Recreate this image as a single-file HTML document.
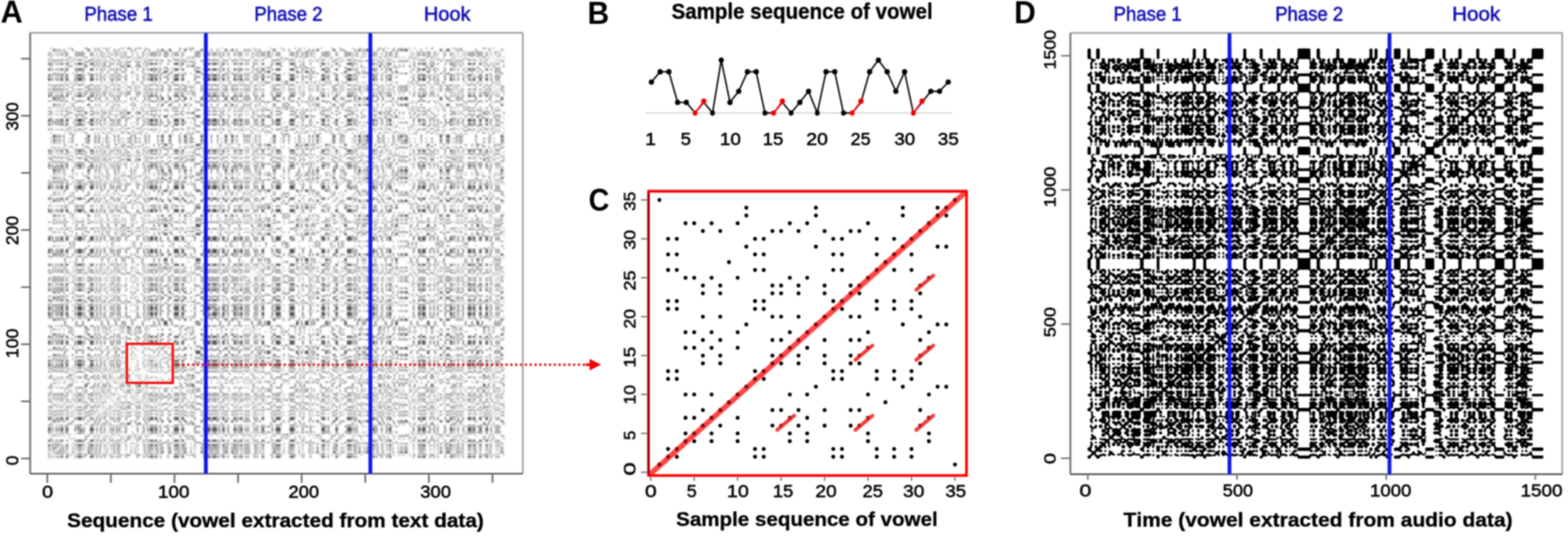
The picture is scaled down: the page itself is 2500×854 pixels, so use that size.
<!DOCTYPE html>
<html><head><meta charset="utf-8"><title>Recurrence plots</title>
<style>html,body{margin:0;padding:0;background:#fff;}svg{display:block;}text{font-family:'Liberation Sans',sans-serif;}</style>
</head><body>
<svg width="2500" height="854" viewBox="0 0 2500 854">
<defs><filter id="gooD" x="1700" y="60" width="800" height="700" filterUnits="userSpaceOnUse"><feGaussianBlur stdDeviation="0.9"/><feComponentTransfer><feFuncA type="linear" slope="3" intercept="-1"/></feComponentTransfer></filter><filter id="blurA" x="0" y="0" width="1" height="1"><feGaussianBlur stdDeviation="1.1"/></filter><filter id="soft" x="0" y="0" width="2500" height="854" filterUnits="userSpaceOnUse"><feGaussianBlur stdDeviation="0.8"/></filter></defs>
<rect width="2500" height="854" fill="#fff"/>
<g filter="url(#soft)">
<defs><clipPath id="ra0"><path d="M0 718.73H2500.00V722.25H0ZM0 715.09H2500.00V716.79H0ZM0 711.45H2500.00V713.15H0ZM0 705.99H2500.00V707.69H0ZM0 693.25H2500.00V694.95H0ZM0 669.59H2500.00V673.11H0ZM0 660.49H2500.00V662.19H0ZM0 655.03H2500.00V656.73H0ZM0 644.11H2500.00V645.81H0ZM0 633.19H2500.00V634.89H0ZM0 627.73H2500.00V629.43H0ZM0 609.53H2500.00V611.23H0ZM0 604.07H2500.00V605.77H0ZM0 589.51H2500.00V591.21H0ZM0 584.05H2500.00V585.75H0ZM0 571.31H2500.00V573.01H0ZM0 564.03H2500.00V567.55H0ZM0 553.11H2500.00V556.63H0ZM0 540.37H2500.00V542.07H0ZM0 531.27H2500.00V534.79H0ZM0 523.99H2500.00V525.69H0ZM0 507.61H2500.00V511.13H0ZM0 494.87H2500.00V496.57H0ZM0 485.77H2500.00V487.47H0ZM0 473.03H2500.00V476.55H0ZM0 463.93H2500.00V467.45H0ZM0 458.47H2500.00V460.17H0ZM0 447.55H2500.00V449.25H0ZM0 443.91H2500.00V445.61H0ZM0 440.27H2500.00V441.97H0ZM0 431.17H2500.00V432.87H0ZM0 425.71H2500.00V427.41H0ZM0 403.87H2500.00V407.39H0ZM0 391.13H2500.00V392.83H0ZM0 383.85H2500.00V385.55H0ZM0 369.29H2500.00V370.99H0ZM0 354.73H2500.00V356.43H0ZM0 349.27H2500.00V350.97H0ZM0 341.99H2500.00V345.51H0ZM0 318.33H2500.00V321.85H0ZM0 309.23H2500.00V310.93H0ZM0 305.59H2500.00V307.29H0ZM0 289.21H2500.00V290.91H0ZM0 281.93H2500.00V285.45H0ZM0 276.47H2500.00V278.17H0ZM0 269.19H2500.00V274.53H0ZM0 265.55H2500.00V267.25H0ZM0 256.45H2500.00V258.15H0ZM0 249.17H2500.00V250.87H0ZM0 234.61H2500.00V236.31H0ZM0 227.33H2500.00V229.03H0ZM0 221.87H2500.00V225.39H0ZM0 214.59H2500.00V219.93H0ZM0 194.57H2500.00V196.27H0ZM0 165.45H2500.00V168.97H0ZM0 154.53H2500.00V159.87H0ZM0 143.61H2500.00V145.31H0ZM0 139.97H2500.00V141.67H0ZM0 136.33H2500.00V138.03H0ZM0 116.31H2500.00V118.01H0ZM0 96.29H2500.00V97.99H0ZM0 78.09H2500.00V81.61H0Z"/></clipPath><clipPath id="ra1"><path d="M0 726.01H2500.00V729.53H0ZM0 722.37H2500.00V724.07H0ZM0 716.91H2500.00V718.61H0ZM0 713.27H2500.00V714.97H0ZM0 707.81H2500.00V711.33H0ZM0 700.53H2500.00V704.05H0ZM0 689.61H2500.00V691.31H0ZM0 680.51H2500.00V687.67H0ZM0 676.87H2500.00V678.57H0ZM0 664.13H2500.00V669.47H0ZM0 658.67H2500.00V660.37H0ZM0 653.21H2500.00V654.91H0ZM0 647.75H2500.00V649.45H0ZM0 638.65H2500.00V640.35H0ZM0 635.01H2500.00V636.71H0ZM0 629.55H2500.00V631.25H0ZM0 625.91H2500.00V627.61H0ZM0 616.81H2500.00V618.51H0ZM0 600.43H2500.00V602.13H0ZM0 591.33H2500.00V593.03H0ZM0 585.87H2500.00V587.57H0ZM0 578.59H2500.00V583.93H0ZM0 573.13H2500.00V576.65H0ZM0 567.67H2500.00V569.37H0ZM0 556.75H2500.00V558.45H0ZM0 542.19H2500.00V549.35H0ZM0 534.91H2500.00V538.43H0ZM0 518.53H2500.00V520.23H0ZM0 505.79H2500.00V507.49H0ZM0 496.69H2500.00V503.85H0ZM0 487.59H2500.00V494.75H0ZM0 483.95H2500.00V485.65H0ZM0 476.67H2500.00V480.19H0ZM0 471.21H2500.00V472.91H0ZM0 460.29H2500.00V463.81H0ZM0 456.65H2500.00V458.35H0ZM0 451.19H2500.00V454.71H0ZM0 445.73H2500.00V447.43H0ZM0 442.09H2500.00V443.79H0ZM0 432.99H2500.00V434.69H0ZM0 429.35H2500.00V431.05H0ZM0 420.25H2500.00V423.77H0ZM0 407.51H2500.00V409.21H0ZM0 396.59H2500.00V403.75H0ZM0 376.57H2500.00V383.73H0ZM0 363.83H2500.00V365.53H0ZM0 352.91H2500.00V354.61H0ZM0 332.89H2500.00V338.23H0ZM0 327.43H2500.00V329.13H0ZM0 314.69H2500.00V318.21H0ZM0 294.67H2500.00V301.83H0ZM0 291.03H2500.00V292.73H0ZM0 287.39H2500.00V289.09H0ZM0 267.37H2500.00V269.07H0ZM0 261.91H2500.00V265.43H0ZM0 258.27H2500.00V259.97H0ZM0 250.99H2500.00V252.69H0ZM0 243.71H2500.00V245.41H0ZM0 238.25H2500.00V241.77H0ZM0 205.49H2500.00V207.19H0ZM0 196.39H2500.00V199.91H0ZM0 189.11H2500.00V194.45H0ZM0 181.83H2500.00V183.53H0ZM0 176.37H2500.00V178.07H0ZM0 170.91H2500.00V172.61H0ZM0 159.99H2500.00V161.69H0ZM0 150.89H2500.00V154.41H0ZM0 147.25H2500.00V148.95H0ZM0 141.79H2500.00V143.49H0ZM0 134.51H2500.00V136.21H0ZM0 123.59H2500.00V128.93H0ZM0 118.13H2500.00V121.65H0ZM0 109.03H2500.00V112.55H0ZM0 99.93H2500.00V103.45H0ZM0 94.47H2500.00V96.17H0ZM0 87.19H2500.00V88.89H0ZM0 83.55H2500.00V85.25H0Z"/></clipPath><clipPath id="ra2"><path d="M0 704.17H2500.00V705.87H0ZM0 687.79H2500.00V689.49H0ZM0 678.69H2500.00V680.39H0ZM0 651.39H2500.00V653.09H0ZM0 642.29H2500.00V643.99H0ZM0 631.37H2500.00V633.07H0ZM0 622.27H2500.00V623.97H0ZM0 618.63H2500.00V620.33H0ZM0 607.71H2500.00V609.41H0ZM0 593.15H2500.00V594.85H0ZM0 576.77H2500.00V578.47H0ZM0 569.49H2500.00V571.19H0ZM0 558.57H2500.00V563.91H0ZM0 551.29H2500.00V552.99H0ZM0 511.25H2500.00V518.41H0ZM0 482.13H2500.00V483.83H0ZM0 469.39H2500.00V471.09H0ZM0 454.83H2500.00V456.53H0ZM0 436.63H2500.00V438.33H0ZM0 427.53H2500.00V429.23H0ZM0 423.89H2500.00V425.59H0ZM0 418.43H2500.00V420.13H0ZM0 411.15H2500.00V416.49H0ZM0 371.11H2500.00V374.63H0ZM0 365.65H2500.00V367.35H0ZM0 356.55H2500.00V361.89H0ZM0 351.09H2500.00V352.79H0ZM0 347.45H2500.00V349.15H0ZM0 329.25H2500.00V332.77H0ZM0 325.61H2500.00V327.31H0ZM0 301.95H2500.00V305.47H0ZM0 285.57H2500.00V287.27H0ZM0 278.29H2500.00V279.99H0ZM0 274.65H2500.00V276.35H0ZM0 260.09H2500.00V261.79H0ZM0 245.53H2500.00V247.23H0ZM0 236.43H2500.00V238.13H0ZM0 229.15H2500.00V232.67H0ZM0 209.13H2500.00V210.83H0ZM0 200.03H2500.00V201.73H0ZM0 183.65H2500.00V187.17H0ZM0 174.55H2500.00V176.25H0ZM0 161.81H2500.00V163.51H0ZM0 130.87H2500.00V132.57H0ZM0 121.77H2500.00V123.47H0ZM0 112.67H2500.00V116.19H0ZM0 107.21H2500.00V108.91H0ZM0 89.01H2500.00V90.71H0ZM0 85.37H2500.00V87.07H0ZM0 81.73H2500.00V83.43H0Z"/></clipPath><clipPath id="ra3"><path d="M0 724.19H2500.00V725.89H0ZM0 698.71H2500.00V700.41H0ZM0 695.07H2500.00V696.77H0ZM0 673.23H2500.00V676.75H0ZM0 662.31H2500.00V664.01H0ZM0 656.85H2500.00V658.55H0ZM0 649.57H2500.00V651.27H0ZM0 645.93H2500.00V647.63H0ZM0 640.47H2500.00V642.17H0ZM0 624.09H2500.00V625.79H0ZM0 620.45H2500.00V622.15H0ZM0 611.35H2500.00V616.69H0ZM0 602.25H2500.00V603.95H0ZM0 596.79H2500.00V600.31H0ZM0 587.69H2500.00V589.39H0ZM0 538.55H2500.00V540.25H0ZM0 529.45H2500.00V531.15H0ZM0 525.81H2500.00V527.51H0ZM0 520.35H2500.00V523.87H0ZM0 503.97H2500.00V505.67H0ZM0 480.31H2500.00V482.01H0ZM0 434.81H2500.00V436.51H0ZM0 409.33H2500.00V411.03H0ZM0 394.77H2500.00V396.47H0ZM0 374.75H2500.00V376.45H0ZM0 367.47H2500.00V369.17H0ZM0 362.01H2500.00V363.71H0ZM0 338.35H2500.00V340.05H0ZM0 321.97H2500.00V323.67H0ZM0 311.05H2500.00V312.75H0ZM0 292.85H2500.00V294.55H0ZM0 280.11H2500.00V281.81H0ZM0 252.81H2500.00V256.33H0ZM0 247.35H2500.00V249.05H0ZM0 241.89H2500.00V243.59H0ZM0 232.79H2500.00V234.49H0ZM0 225.51H2500.00V227.21H0ZM0 220.05H2500.00V221.75H0ZM0 210.95H2500.00V212.65H0ZM0 203.67H2500.00V205.37H0ZM0 187.29H2500.00V188.99H0ZM0 178.19H2500.00V181.71H0ZM0 149.07H2500.00V150.77H0ZM0 145.43H2500.00V147.13H0ZM0 138.15H2500.00V139.85H0ZM0 103.57H2500.00V107.09H0ZM0 98.11H2500.00V99.81H0ZM0 90.83H2500.00V92.53H0ZM0 76.27H2500.00V77.97H0Z"/></clipPath><clipPath id="ra4"><path d="M0 696.89H2500.00V698.59H0ZM0 691.43H2500.00V693.13H0ZM0 636.83H2500.00V638.53H0ZM0 605.89H2500.00V607.59H0ZM0 594.97H2500.00V596.67H0ZM0 549.47H2500.00V551.17H0ZM0 527.63H2500.00V529.33H0ZM0 467.57H2500.00V469.27H0ZM0 449.37H2500.00V451.07H0ZM0 438.45H2500.00V440.15H0ZM0 416.61H2500.00V418.31H0ZM0 392.95H2500.00V394.65H0ZM0 385.67H2500.00V391.01H0ZM0 345.63H2500.00V347.33H0ZM0 340.17H2500.00V341.87H0ZM0 323.79H2500.00V325.49H0ZM0 312.87H2500.00V314.57H0ZM0 307.41H2500.00V309.11H0ZM0 212.77H2500.00V214.47H0ZM0 207.31H2500.00V209.01H0ZM0 201.85H2500.00V203.55H0ZM0 172.73H2500.00V174.43H0ZM0 169.09H2500.00V170.79H0ZM0 163.63H2500.00V165.33H0ZM0 132.69H2500.00V134.39H0ZM0 129.05H2500.00V130.75H0ZM0 92.65H2500.00V94.35H0Z"/></clipPath></defs><g fill="#505050" filter="url(#blurA)"><path clip-path="url(#ra0)" d="M84.64 0.00H88.47V854.00H84.64ZM90.72 0.00H92.52V854.00H90.72ZM94.78 0.00H96.58V854.00H94.78ZM100.86 0.00H102.66V854.00H100.86ZM115.06 0.00H116.86V854.00H115.06ZM139.40 0.00H143.22V854.00H139.40ZM151.56 0.00H153.36V854.00H151.56ZM157.65 0.00H159.45V854.00H157.65ZM169.82 0.00H171.62V854.00H169.82ZM181.98 0.00H183.78V854.00H181.98ZM188.07 0.00H189.87V854.00H188.07ZM208.35 0.00H210.15V854.00H208.35ZM214.43 0.00H216.23V854.00H214.43ZM230.66 0.00H232.46V854.00H230.66ZM236.74 0.00H238.54V854.00H236.74ZM250.94 0.00H252.74V854.00H250.94ZM257.02 0.00H260.85V854.00H257.02ZM269.19 0.00H273.02V854.00H269.19ZM285.41 0.00H287.21V854.00H285.41ZM293.52 0.00H297.35V854.00H293.52ZM303.66 0.00H305.46V854.00H303.66ZM319.89 0.00H323.72V854.00H319.89ZM336.11 0.00H337.91V854.00H336.11ZM346.25 0.00H348.05V854.00H346.25ZM358.42 0.00H362.25V854.00H358.42ZM368.56 0.00H372.39V854.00H368.56ZM376.67 0.00H378.47V854.00H376.67ZM388.84 0.00H390.64V854.00H388.84ZM392.90 0.00H394.70V854.00H392.90ZM396.95 0.00H398.75V854.00H396.95ZM407.09 0.00H408.89V854.00H407.09ZM413.18 0.00H414.98V854.00H413.18ZM435.48 0.00H439.31V854.00H435.48ZM451.71 0.00H453.51V854.00H451.71ZM459.82 0.00H461.62V854.00H459.82ZM476.04 0.00H477.84V854.00H476.04ZM492.27 0.00H494.07V854.00H492.27ZM498.35 0.00H500.15V854.00H498.35ZM504.44 0.00H508.26V854.00H504.44ZM530.80 0.00H534.63V854.00H530.80ZM542.97 0.00H544.77V854.00H542.97ZM547.02 0.00H548.82V854.00H547.02ZM565.28 0.00H567.08V854.00H565.28ZM571.36 0.00H575.19V854.00H571.36ZM579.47 0.00H581.27V854.00H579.47ZM583.53 0.00H589.38V854.00H583.53ZM591.64 0.00H593.44V854.00H591.64ZM601.78 0.00H603.58V854.00H601.78ZM609.89 0.00H611.69V854.00H609.89ZM626.12 0.00H627.92V854.00H626.12ZM634.23 0.00H636.03V854.00H634.23ZM638.28 0.00H642.11V854.00H638.28ZM644.37 0.00H650.22V854.00H644.37ZM670.73 0.00H672.53V854.00H670.73ZM701.15 0.00H704.98V854.00H701.15ZM711.29 0.00H717.15V854.00H711.29ZM727.52 0.00H729.32V854.00H727.52ZM731.57 0.00H733.37V854.00H731.57ZM735.63 0.00H737.43V854.00H735.63ZM757.94 0.00H759.74V854.00H757.94ZM780.24 0.00H782.04V854.00H780.24ZM798.50 0.00H802.32V854.00H798.50Z"/><path clip-path="url(#ra1)" d="M76.53 0.00H80.36V854.00H76.53ZM82.61 0.00H84.41V854.00H82.61ZM88.70 0.00H90.50V854.00H88.70ZM92.75 0.00H94.55V854.00H92.75ZM96.81 0.00H100.64V854.00H96.81ZM104.92 0.00H108.75V854.00H104.92ZM119.12 0.00H120.92V854.00H119.12ZM123.17 0.00H131.06V854.00H123.17ZM133.31 0.00H135.11V854.00H133.31ZM143.45 0.00H149.31V854.00H143.45ZM153.59 0.00H155.39V854.00H153.59ZM159.68 0.00H161.48V854.00H159.68ZM165.76 0.00H167.56V854.00H165.76ZM175.90 0.00H177.70V854.00H175.90ZM179.96 0.00H181.76V854.00H179.96ZM186.04 0.00H187.84V854.00H186.04ZM190.10 0.00H191.90V854.00H190.10ZM200.24 0.00H202.04V854.00H200.24ZM218.49 0.00H220.29V854.00H218.49ZM228.63 0.00H230.43V854.00H228.63ZM234.71 0.00H236.51V854.00H234.71ZM238.77 0.00H244.62V854.00H238.77ZM246.88 0.00H250.71V854.00H246.88ZM254.99 0.00H256.79V854.00H254.99ZM267.16 0.00H268.96V854.00H267.16ZM277.30 0.00H285.18V854.00H277.30ZM289.47 0.00H293.30V854.00H289.47ZM309.75 0.00H311.55V854.00H309.75ZM323.94 0.00H325.74V854.00H323.94ZM328.00 0.00H335.88V854.00H328.00ZM338.14 0.00H346.02V854.00H338.14ZM348.28 0.00H350.08V854.00H348.28ZM354.36 0.00H358.19V854.00H354.36ZM362.48 0.00H364.28V854.00H362.48ZM372.62 0.00H376.44V854.00H372.62ZM378.70 0.00H380.50V854.00H378.70ZM382.76 0.00H386.58V854.00H382.76ZM390.87 0.00H392.67V854.00H390.87ZM394.92 0.00H396.72V854.00H394.92ZM405.06 0.00H406.86V854.00H405.06ZM409.12 0.00H410.92V854.00H409.12ZM417.23 0.00H421.06V854.00H417.23ZM433.46 0.00H435.26V854.00H433.46ZM439.54 0.00H447.42V854.00H439.54ZM461.85 0.00H469.73V854.00H461.85ZM482.13 0.00H483.93V854.00H482.13ZM494.30 0.00H496.10V854.00H494.30ZM512.55 0.00H518.40V854.00H512.55ZM522.69 0.00H524.49V854.00H522.69ZM534.86 0.00H538.68V854.00H534.86ZM553.11 0.00H560.99V854.00H553.11ZM563.25 0.00H565.05V854.00H563.25ZM567.30 0.00H569.10V854.00H567.30ZM589.61 0.00H591.41V854.00H589.61ZM593.67 0.00H597.50V854.00H593.67ZM599.75 0.00H601.55V854.00H599.75ZM607.86 0.00H609.66V854.00H607.86ZM615.98 0.00H617.78V854.00H615.98ZM620.03 0.00H623.86V854.00H620.03ZM658.56 0.00H660.36V854.00H658.56ZM666.68 0.00H670.50V854.00H666.68ZM672.76 0.00H678.62V854.00H672.76ZM684.93 0.00H686.73V854.00H684.93ZM691.01 0.00H692.81V854.00H691.01ZM697.10 0.00H698.90V854.00H697.10ZM709.26 0.00H711.06V854.00H709.26ZM717.38 0.00H721.20V854.00H717.38ZM723.46 0.00H725.26V854.00H723.46ZM729.54 0.00H731.34V854.00H729.54ZM737.66 0.00H739.46V854.00H737.66ZM745.77 0.00H751.62V854.00H745.77ZM753.88 0.00H757.71V854.00H753.88ZM764.02 0.00H767.85V854.00H764.02ZM774.16 0.00H777.99V854.00H774.16ZM782.27 0.00H784.07V854.00H782.27ZM790.38 0.00H792.18V854.00H790.38ZM794.44 0.00H796.24V854.00H794.44Z"/><path clip-path="url(#ra2)" d="M102.89 0.00H104.69V854.00H102.89ZM121.14 0.00H122.94V854.00H121.14ZM131.28 0.00H133.08V854.00H131.28ZM161.70 0.00H163.50V854.00H161.70ZM171.84 0.00H173.64V854.00H171.84ZM184.01 0.00H185.81V854.00H184.01ZM194.15 0.00H195.95V854.00H194.15ZM198.21 0.00H200.01V854.00H198.21ZM210.38 0.00H212.18V854.00H210.38ZM226.60 0.00H228.40V854.00H226.60ZM244.85 0.00H246.65V854.00H244.85ZM252.96 0.00H254.76V854.00H252.96ZM261.08 0.00H266.93V854.00H261.08ZM273.24 0.00H275.04V854.00H273.24ZM311.78 0.00H319.66V854.00H311.78ZM350.31 0.00H352.11V854.00H350.31ZM364.50 0.00H366.30V854.00H364.50ZM380.73 0.00H382.53V854.00H380.73ZM401.01 0.00H402.81V854.00H401.01ZM411.15 0.00H412.95V854.00H411.15ZM415.20 0.00H417.00V854.00H415.20ZM421.29 0.00H423.09V854.00H421.29ZM425.34 0.00H431.20V854.00H425.34ZM471.99 0.00H475.82V854.00H471.99ZM480.10 0.00H481.90V854.00H480.10ZM486.18 0.00H492.04V854.00H486.18ZM496.32 0.00H498.12V854.00H496.32ZM500.38 0.00H502.18V854.00H500.38ZM518.63 0.00H522.46V854.00H518.63ZM524.72 0.00H526.52V854.00H524.72ZM549.05 0.00H552.88V854.00H549.05ZM569.33 0.00H571.13V854.00H569.33ZM577.44 0.00H579.24V854.00H577.44ZM581.50 0.00H583.30V854.00H581.50ZM597.72 0.00H599.52V854.00H597.72ZM613.95 0.00H615.75V854.00H613.95ZM624.09 0.00H625.89V854.00H624.09ZM630.17 0.00H634.00V854.00H630.17ZM654.51 0.00H656.31V854.00H654.51ZM664.65 0.00H666.45V854.00H664.65ZM680.87 0.00H684.70V854.00H680.87ZM693.04 0.00H694.84V854.00H693.04ZM707.24 0.00H709.04V854.00H707.24ZM741.71 0.00H743.51V854.00H741.71ZM751.85 0.00H753.65V854.00H751.85ZM759.96 0.00H763.79V854.00H759.96ZM768.08 0.00H769.88V854.00H768.08ZM788.36 0.00H790.16V854.00H788.36ZM792.41 0.00H794.21V854.00H792.41ZM796.47 0.00H798.27V854.00H796.47Z"/><path clip-path="url(#ra3)" d="M80.58 0.00H82.38V854.00H80.58ZM108.98 0.00H110.78V854.00H108.98ZM113.03 0.00H114.83V854.00H113.03ZM135.34 0.00H139.17V854.00H135.34ZM149.54 0.00H151.34V854.00H149.54ZM155.62 0.00H157.42V854.00H155.62ZM163.73 0.00H165.53V854.00H163.73ZM167.79 0.00H169.59V854.00H167.79ZM173.87 0.00H175.67V854.00H173.87ZM192.12 0.00H193.92V854.00H192.12ZM196.18 0.00H197.98V854.00H196.18ZM202.26 0.00H208.12V854.00H202.26ZM216.46 0.00H218.26V854.00H216.46ZM220.52 0.00H224.34V854.00H220.52ZM232.68 0.00H234.48V854.00H232.68ZM287.44 0.00H289.24V854.00H287.44ZM297.58 0.00H299.38V854.00H297.58ZM301.64 0.00H303.44V854.00H301.64ZM305.69 0.00H309.52V854.00H305.69ZM325.97 0.00H327.77V854.00H325.97ZM352.34 0.00H354.14V854.00H352.34ZM403.04 0.00H404.84V854.00H403.04ZM431.43 0.00H433.23V854.00H431.43ZM447.65 0.00H449.45V854.00H447.65ZM469.96 0.00H471.76V854.00H469.96ZM478.07 0.00H479.87V854.00H478.07ZM484.16 0.00H485.96V854.00H484.16ZM510.52 0.00H512.32V854.00H510.52ZM528.77 0.00H530.57V854.00H528.77ZM540.94 0.00H542.74V854.00H540.94ZM561.22 0.00H563.02V854.00H561.22ZM575.42 0.00H577.22V854.00H575.42ZM603.81 0.00H607.64V854.00H603.81ZM611.92 0.00H613.72V854.00H611.92ZM618.00 0.00H619.80V854.00H618.00ZM628.14 0.00H629.94V854.00H628.14ZM636.26 0.00H638.06V854.00H636.26ZM642.34 0.00H644.14V854.00H642.34ZM652.48 0.00H654.28V854.00H652.48ZM660.59 0.00H662.39V854.00H660.59ZM678.84 0.00H680.64V854.00H678.84ZM686.96 0.00H690.78V854.00H686.96ZM721.43 0.00H723.23V854.00H721.43ZM725.49 0.00H727.29V854.00H725.49ZM733.60 0.00H735.40V854.00H733.60ZM770.10 0.00H773.93V854.00H770.10ZM778.22 0.00H780.02V854.00H778.22ZM786.33 0.00H788.13V854.00H786.33ZM802.55 0.00H804.35V854.00H802.55Z"/><path clip-path="url(#ra4)" d="M111.00 0.00H112.80V854.00H111.00ZM117.09 0.00H118.89V854.00H117.09ZM177.93 0.00H179.73V854.00H177.93ZM212.40 0.00H214.20V854.00H212.40ZM224.57 0.00H226.37V854.00H224.57ZM275.27 0.00H277.07V854.00H275.27ZM299.61 0.00H301.41V854.00H299.61ZM366.53 0.00H368.33V854.00H366.53ZM386.81 0.00H388.61V854.00H386.81ZM398.98 0.00H400.78V854.00H398.98ZM423.32 0.00H425.12V854.00H423.32ZM449.68 0.00H451.48V854.00H449.68ZM453.74 0.00H459.59V854.00H453.74ZM502.41 0.00H504.21V854.00H502.41ZM508.49 0.00H510.29V854.00H508.49ZM526.74 0.00H528.54V854.00H526.74ZM538.91 0.00H540.71V854.00H538.91ZM545.00 0.00H546.80V854.00H545.00ZM650.45 0.00H652.25V854.00H650.45ZM656.54 0.00H658.34V854.00H656.54ZM662.62 0.00H664.42V854.00H662.62ZM695.07 0.00H696.87V854.00H695.07ZM699.12 0.00H700.92V854.00H699.12ZM705.21 0.00H707.01V854.00H705.21ZM739.68 0.00H741.48V854.00H739.68ZM743.74 0.00H745.54V854.00H743.74ZM784.30 0.00H786.10V854.00H784.30Z"/><path fill="#fff" d="M76.48 727.78h1.90v1.80h-1.90ZM78.51 725.96h1.90v1.80h-1.90ZM80.53 724.14h1.90v1.80h-1.90ZM82.56 722.32h1.90v1.80h-1.90ZM84.59 720.50h1.90v1.80h-1.90ZM86.62 718.68h1.90v1.80h-1.90ZM88.65 716.86h1.90v1.80h-1.90ZM90.67 715.04h1.90v1.80h-1.90ZM92.70 713.22h1.90v1.80h-1.90ZM94.73 711.40h1.90v1.80h-1.90ZM96.76 709.58h1.90v1.80h-1.90ZM98.79 707.76h1.90v1.80h-1.90ZM100.81 705.94h1.90v1.80h-1.90ZM102.84 704.12h1.90v1.80h-1.90ZM104.87 702.30h1.90v1.80h-1.90ZM106.90 700.48h1.90v1.80h-1.90ZM108.93 698.66h1.90v1.80h-1.90ZM110.95 696.84h1.90v1.80h-1.90ZM112.98 695.02h1.90v1.80h-1.90ZM115.01 693.20h1.90v1.80h-1.90ZM117.04 691.38h1.90v1.80h-1.90ZM119.07 689.56h1.90v1.80h-1.90ZM121.09 687.74h1.90v1.80h-1.90ZM123.12 685.92h1.90v1.80h-1.90ZM125.15 684.10h1.90v1.80h-1.90ZM127.18 682.28h1.90v1.80h-1.90ZM129.21 680.46h1.90v1.80h-1.90ZM131.23 678.64h1.90v1.80h-1.90ZM133.26 676.82h1.90v1.80h-1.90ZM135.29 675.00h1.90v1.80h-1.90ZM137.32 673.18h1.90v1.80h-1.90ZM139.35 671.36h1.90v1.80h-1.90ZM141.37 669.54h1.90v1.80h-1.90ZM143.40 667.72h1.90v1.80h-1.90ZM145.43 665.90h1.90v1.80h-1.90ZM147.46 664.08h1.90v1.80h-1.90ZM149.49 662.26h1.90v1.80h-1.90ZM151.51 660.44h1.90v1.80h-1.90ZM153.54 658.62h1.90v1.80h-1.90ZM155.57 656.80h1.90v1.80h-1.90ZM157.60 654.98h1.90v1.80h-1.90ZM159.63 653.16h1.90v1.80h-1.90ZM161.65 651.34h1.90v1.80h-1.90ZM163.68 649.52h1.90v1.80h-1.90ZM165.71 647.70h1.90v1.80h-1.90ZM167.74 645.88h1.90v1.80h-1.90ZM169.77 644.06h1.90v1.80h-1.90ZM171.79 642.24h1.90v1.80h-1.90ZM173.82 640.42h1.90v1.80h-1.90ZM175.85 638.60h1.90v1.80h-1.90ZM177.88 636.78h1.90v1.80h-1.90ZM179.91 634.96h1.90v1.80h-1.90ZM181.93 633.14h1.90v1.80h-1.90ZM183.96 631.32h1.90v1.80h-1.90ZM185.99 629.50h1.90v1.80h-1.90ZM188.02 627.68h1.90v1.80h-1.90ZM190.05 625.86h1.90v1.80h-1.90ZM192.07 624.04h1.90v1.80h-1.90ZM194.10 622.22h1.90v1.80h-1.90ZM196.13 620.40h1.90v1.80h-1.90ZM198.16 618.58h1.90v1.80h-1.90ZM200.19 616.76h1.90v1.80h-1.90ZM202.21 614.94h1.90v1.80h-1.90ZM204.24 613.12h1.90v1.80h-1.90ZM206.27 611.30h1.90v1.80h-1.90ZM208.30 609.48h1.90v1.80h-1.90ZM210.33 607.66h1.90v1.80h-1.90ZM212.35 605.84h1.90v1.80h-1.90ZM214.38 604.02h1.90v1.80h-1.90ZM216.41 602.20h1.90v1.80h-1.90ZM218.44 600.38h1.90v1.80h-1.90ZM220.47 598.56h1.90v1.80h-1.90ZM222.49 596.74h1.90v1.80h-1.90ZM224.52 594.92h1.90v1.80h-1.90ZM226.55 593.10h1.90v1.80h-1.90ZM228.58 591.28h1.90v1.80h-1.90ZM230.61 589.46h1.90v1.80h-1.90ZM232.63 587.64h1.90v1.80h-1.90ZM234.66 585.82h1.90v1.80h-1.90ZM236.69 584.00h1.90v1.80h-1.90ZM238.72 582.18h1.90v1.80h-1.90ZM240.75 580.36h1.90v1.80h-1.90ZM242.77 578.54h1.90v1.80h-1.90ZM244.80 576.72h1.90v1.80h-1.90ZM246.83 574.90h1.90v1.80h-1.90ZM248.86 573.08h1.90v1.80h-1.90ZM250.89 571.26h1.90v1.80h-1.90ZM252.91 569.44h1.90v1.80h-1.90ZM254.94 567.62h1.90v1.80h-1.90ZM256.97 565.80h1.90v1.80h-1.90ZM259.00 563.98h1.90v1.80h-1.90ZM261.03 562.16h1.90v1.80h-1.90ZM263.05 560.34h1.90v1.80h-1.90ZM265.08 558.52h1.90v1.80h-1.90ZM267.11 556.70h1.90v1.80h-1.90ZM269.14 554.88h1.90v1.80h-1.90ZM271.17 553.06h1.90v1.80h-1.90ZM273.19 551.24h1.90v1.80h-1.90ZM275.22 549.42h1.90v1.80h-1.90ZM277.25 547.60h1.90v1.80h-1.90ZM279.28 545.78h1.90v1.80h-1.90ZM281.31 543.96h1.90v1.80h-1.90ZM283.33 542.14h1.90v1.80h-1.90ZM285.36 540.32h1.90v1.80h-1.90ZM287.39 538.50h1.90v1.80h-1.90ZM289.42 536.68h1.90v1.80h-1.90ZM291.45 534.86h1.90v1.80h-1.90ZM293.47 533.04h1.90v1.80h-1.90ZM295.50 531.22h1.90v1.80h-1.90ZM297.53 529.40h1.90v1.80h-1.90ZM299.56 527.58h1.90v1.80h-1.90ZM301.59 525.76h1.90v1.80h-1.90ZM303.61 523.94h1.90v1.80h-1.90ZM305.64 522.12h1.90v1.80h-1.90ZM307.67 520.30h1.90v1.80h-1.90ZM309.70 518.48h1.90v1.80h-1.90ZM311.73 516.66h1.90v1.80h-1.90ZM313.75 514.84h1.90v1.80h-1.90ZM315.78 513.02h1.90v1.80h-1.90ZM317.81 511.20h1.90v1.80h-1.90ZM319.84 509.38h1.90v1.80h-1.90ZM321.87 507.56h1.90v1.80h-1.90ZM323.89 505.74h1.90v1.80h-1.90ZM325.92 503.92h1.90v1.80h-1.90ZM327.95 502.10h1.90v1.80h-1.90ZM329.98 500.28h1.90v1.80h-1.90ZM332.01 498.46h1.90v1.80h-1.90ZM334.03 496.64h1.90v1.80h-1.90ZM336.06 494.82h1.90v1.80h-1.90ZM338.09 493.00h1.90v1.80h-1.90ZM340.12 491.18h1.90v1.80h-1.90ZM342.15 489.36h1.90v1.80h-1.90ZM344.17 487.54h1.90v1.80h-1.90ZM346.20 485.72h1.90v1.80h-1.90ZM348.23 483.90h1.90v1.80h-1.90ZM350.26 482.08h1.90v1.80h-1.90ZM352.29 480.26h1.90v1.80h-1.90ZM354.31 478.44h1.90v1.80h-1.90ZM356.34 476.62h1.90v1.80h-1.90ZM358.37 474.80h1.90v1.80h-1.90ZM360.40 472.98h1.90v1.80h-1.90ZM362.43 471.16h1.90v1.80h-1.90ZM364.45 469.34h1.90v1.80h-1.90ZM366.48 467.52h1.90v1.80h-1.90ZM368.51 465.70h1.90v1.80h-1.90ZM370.54 463.88h1.90v1.80h-1.90ZM372.57 462.06h1.90v1.80h-1.90ZM374.59 460.24h1.90v1.80h-1.90ZM376.62 458.42h1.90v1.80h-1.90ZM378.65 456.60h1.90v1.80h-1.90ZM380.68 454.78h1.90v1.80h-1.90ZM382.71 452.96h1.90v1.80h-1.90ZM384.73 451.14h1.90v1.80h-1.90ZM386.76 449.32h1.90v1.80h-1.90ZM388.79 447.50h1.90v1.80h-1.90ZM390.82 445.68h1.90v1.80h-1.90ZM392.85 443.86h1.90v1.80h-1.90ZM394.87 442.04h1.90v1.80h-1.90ZM396.90 440.22h1.90v1.80h-1.90ZM398.93 438.40h1.90v1.80h-1.90ZM400.96 436.58h1.90v1.80h-1.90ZM402.99 434.76h1.90v1.80h-1.90ZM405.01 432.94h1.90v1.80h-1.90ZM407.04 431.12h1.90v1.80h-1.90ZM409.07 429.30h1.90v1.80h-1.90ZM411.10 427.48h1.90v1.80h-1.90ZM413.13 425.66h1.90v1.80h-1.90ZM415.15 423.84h1.90v1.80h-1.90ZM417.18 422.02h1.90v1.80h-1.90ZM419.21 420.20h1.90v1.80h-1.90ZM421.24 418.38h1.90v1.80h-1.90ZM423.27 416.56h1.90v1.80h-1.90ZM425.29 414.74h1.90v1.80h-1.90ZM427.32 412.92h1.90v1.80h-1.90ZM429.35 411.10h1.90v1.80h-1.90ZM431.38 409.28h1.90v1.80h-1.90ZM433.41 407.46h1.90v1.80h-1.90ZM435.43 405.64h1.90v1.80h-1.90ZM437.46 403.82h1.90v1.80h-1.90ZM439.49 402.00h1.90v1.80h-1.90ZM441.52 400.18h1.90v1.80h-1.90ZM443.55 398.36h1.90v1.80h-1.90ZM445.57 396.54h1.90v1.80h-1.90ZM447.60 394.72h1.90v1.80h-1.90ZM449.63 392.90h1.90v1.80h-1.90ZM451.66 391.08h1.90v1.80h-1.90ZM453.69 389.26h1.90v1.80h-1.90ZM455.71 387.44h1.90v1.80h-1.90ZM457.74 385.62h1.90v1.80h-1.90ZM459.77 383.80h1.90v1.80h-1.90ZM461.80 381.98h1.90v1.80h-1.90ZM463.83 380.16h1.90v1.80h-1.90ZM465.85 378.34h1.90v1.80h-1.90ZM467.88 376.52h1.90v1.80h-1.90ZM469.91 374.70h1.90v1.80h-1.90ZM471.94 372.88h1.90v1.80h-1.90ZM473.97 371.06h1.90v1.80h-1.90ZM475.99 369.24h1.90v1.80h-1.90ZM478.02 367.42h1.90v1.80h-1.90ZM480.05 365.60h1.90v1.80h-1.90ZM482.08 363.78h1.90v1.80h-1.90ZM484.11 361.96h1.90v1.80h-1.90ZM486.13 360.14h1.90v1.80h-1.90ZM488.16 358.32h1.90v1.80h-1.90ZM490.19 356.50h1.90v1.80h-1.90ZM492.22 354.68h1.90v1.80h-1.90ZM494.25 352.86h1.90v1.80h-1.90ZM496.27 351.04h1.90v1.80h-1.90ZM498.30 349.22h1.90v1.80h-1.90ZM500.33 347.40h1.90v1.80h-1.90ZM502.36 345.58h1.90v1.80h-1.90ZM504.39 343.76h1.90v1.80h-1.90ZM506.41 341.94h1.90v1.80h-1.90ZM508.44 340.12h1.90v1.80h-1.90ZM510.47 338.30h1.90v1.80h-1.90ZM512.50 336.48h1.90v1.80h-1.90ZM514.53 334.66h1.90v1.80h-1.90ZM516.55 332.84h1.90v1.80h-1.90ZM518.58 331.02h1.90v1.80h-1.90ZM520.61 329.20h1.90v1.80h-1.90ZM522.64 327.38h1.90v1.80h-1.90ZM524.67 325.56h1.90v1.80h-1.90ZM526.69 323.74h1.90v1.80h-1.90ZM528.72 321.92h1.90v1.80h-1.90ZM530.75 320.10h1.90v1.80h-1.90ZM532.78 318.28h1.90v1.80h-1.90ZM534.81 316.46h1.90v1.80h-1.90ZM536.83 314.64h1.90v1.80h-1.90ZM538.86 312.82h1.90v1.80h-1.90ZM540.89 311.00h1.90v1.80h-1.90ZM542.92 309.18h1.90v1.80h-1.90ZM544.95 307.36h1.90v1.80h-1.90ZM546.97 305.54h1.90v1.80h-1.90ZM549.00 303.72h1.90v1.80h-1.90ZM551.03 301.90h1.90v1.80h-1.90ZM553.06 300.08h1.90v1.80h-1.90ZM555.09 298.26h1.90v1.80h-1.90ZM557.11 296.44h1.90v1.80h-1.90ZM559.14 294.62h1.90v1.80h-1.90ZM561.17 292.80h1.90v1.80h-1.90ZM563.20 290.98h1.90v1.80h-1.90ZM565.23 289.16h1.90v1.80h-1.90ZM567.25 287.34h1.90v1.80h-1.90ZM569.28 285.52h1.90v1.80h-1.90ZM571.31 283.70h1.90v1.80h-1.90ZM573.34 281.88h1.90v1.80h-1.90ZM575.37 280.06h1.90v1.80h-1.90ZM577.39 278.24h1.90v1.80h-1.90ZM579.42 276.42h1.90v1.80h-1.90ZM581.45 274.60h1.90v1.80h-1.90ZM583.48 272.78h1.90v1.80h-1.90ZM585.51 270.96h1.90v1.80h-1.90ZM587.53 269.14h1.90v1.80h-1.90ZM589.56 267.32h1.90v1.80h-1.90ZM591.59 265.50h1.90v1.80h-1.90ZM593.62 263.68h1.90v1.80h-1.90ZM595.65 261.86h1.90v1.80h-1.90ZM597.67 260.04h1.90v1.80h-1.90ZM599.70 258.22h1.90v1.80h-1.90ZM601.73 256.40h1.90v1.80h-1.90ZM603.76 254.58h1.90v1.80h-1.90ZM605.79 252.76h1.90v1.80h-1.90ZM607.81 250.94h1.90v1.80h-1.90ZM609.84 249.12h1.90v1.80h-1.90ZM611.87 247.30h1.90v1.80h-1.90ZM613.90 245.48h1.90v1.80h-1.90ZM615.93 243.66h1.90v1.80h-1.90ZM617.95 241.84h1.90v1.80h-1.90ZM619.98 240.02h1.90v1.80h-1.90ZM622.01 238.20h1.90v1.80h-1.90ZM624.04 236.38h1.90v1.80h-1.90ZM626.07 234.56h1.90v1.80h-1.90ZM628.09 232.74h1.90v1.80h-1.90ZM630.12 230.92h1.90v1.80h-1.90ZM632.15 229.10h1.90v1.80h-1.90ZM634.18 227.28h1.90v1.80h-1.90ZM636.21 225.46h1.90v1.80h-1.90ZM638.23 223.64h1.90v1.80h-1.90ZM640.26 221.82h1.90v1.80h-1.90ZM642.29 220.00h1.90v1.80h-1.90ZM644.32 218.18h1.90v1.80h-1.90ZM646.35 216.36h1.90v1.80h-1.90ZM648.37 214.54h1.90v1.80h-1.90ZM650.40 212.72h1.90v1.80h-1.90ZM652.43 210.90h1.90v1.80h-1.90ZM654.46 209.08h1.90v1.80h-1.90ZM656.49 207.26h1.90v1.80h-1.90ZM658.51 205.44h1.90v1.80h-1.90ZM660.54 203.62h1.90v1.80h-1.90ZM662.57 201.80h1.90v1.80h-1.90ZM664.60 199.98h1.90v1.80h-1.90ZM666.63 198.16h1.90v1.80h-1.90ZM668.65 196.34h1.90v1.80h-1.90ZM670.68 194.52h1.90v1.80h-1.90ZM672.71 192.70h1.90v1.80h-1.90ZM674.74 190.88h1.90v1.80h-1.90ZM676.77 189.06h1.90v1.80h-1.90ZM678.79 187.24h1.90v1.80h-1.90ZM680.82 185.42h1.90v1.80h-1.90ZM682.85 183.60h1.90v1.80h-1.90ZM684.88 181.78h1.90v1.80h-1.90ZM686.91 179.96h1.90v1.80h-1.90ZM688.93 178.14h1.90v1.80h-1.90ZM690.96 176.32h1.90v1.80h-1.90ZM692.99 174.50h1.90v1.80h-1.90ZM695.02 172.68h1.90v1.80h-1.90ZM697.05 170.86h1.90v1.80h-1.90ZM699.07 169.04h1.90v1.80h-1.90ZM701.10 167.22h1.90v1.80h-1.90ZM703.13 165.40h1.90v1.80h-1.90ZM705.16 163.58h1.90v1.80h-1.90ZM707.19 161.76h1.90v1.80h-1.90ZM709.21 159.94h1.90v1.80h-1.90ZM711.24 158.12h1.90v1.80h-1.90ZM713.27 156.30h1.90v1.80h-1.90ZM715.30 154.48h1.90v1.80h-1.90ZM717.33 152.66h1.90v1.80h-1.90ZM719.35 150.84h1.90v1.80h-1.90ZM721.38 149.02h1.90v1.80h-1.90ZM723.41 147.20h1.90v1.80h-1.90ZM725.44 145.38h1.90v1.80h-1.90ZM727.47 143.56h1.90v1.80h-1.90ZM729.49 141.74h1.90v1.80h-1.90ZM731.52 139.92h1.90v1.80h-1.90ZM733.55 138.10h1.90v1.80h-1.90ZM735.58 136.28h1.90v1.80h-1.90ZM737.61 134.46h1.90v1.80h-1.90ZM739.63 132.64h1.90v1.80h-1.90ZM741.66 130.82h1.90v1.80h-1.90ZM743.69 129.00h1.90v1.80h-1.90ZM745.72 127.18h1.90v1.80h-1.90ZM747.75 125.36h1.90v1.80h-1.90ZM749.77 123.54h1.90v1.80h-1.90ZM751.80 121.72h1.90v1.80h-1.90ZM753.83 119.90h1.90v1.80h-1.90ZM755.86 118.08h1.90v1.80h-1.90ZM757.89 116.26h1.90v1.80h-1.90ZM759.91 114.44h1.90v1.80h-1.90ZM761.94 112.62h1.90v1.80h-1.90ZM763.97 110.80h1.90v1.80h-1.90ZM766.00 108.98h1.90v1.80h-1.90ZM768.03 107.16h1.90v1.80h-1.90ZM770.05 105.34h1.90v1.80h-1.90ZM772.08 103.52h1.90v1.80h-1.90ZM774.11 101.70h1.90v1.80h-1.90ZM776.14 99.88h1.90v1.80h-1.90ZM778.17 98.06h1.90v1.80h-1.90ZM780.19 96.24h1.90v1.80h-1.90ZM782.22 94.42h1.90v1.80h-1.90ZM784.25 92.60h1.90v1.80h-1.90ZM786.28 90.78h1.90v1.80h-1.90ZM788.31 88.96h1.90v1.80h-1.90ZM790.33 87.14h1.90v1.80h-1.90ZM792.36 85.32h1.90v1.80h-1.90ZM794.39 83.50h1.90v1.80h-1.90ZM796.42 81.68h1.90v1.80h-1.90ZM798.45 79.86h1.90v1.80h-1.90ZM800.47 78.04h1.90v1.80h-1.90ZM802.50 76.22h1.90v1.80h-1.90Z"/></g><g fill="none" stroke-width="2.6"><path d="M48 52.3H833.5" stroke="#9a9a9a"/><path d="M48.1 52.3V754.7" stroke="#767676" stroke-width="3"/><path d="M833.5 52.3V754.7" stroke="#9a9a9a"/><path d="M48 754.7H833.5" stroke="#555"/></g><path d="M75.40 754.7V769.3M33.6 730.50H48M176.80 754.7V769.3M33.6 639.50H48M278.20 754.7V769.3M33.6 548.50H48M379.60 754.7V769.3M33.6 457.50H48M481.00 754.7V769.3M33.6 366.50H48M582.40 754.7V769.3M33.6 275.50H48M683.80 754.7V769.3M33.6 184.50H48M785.20 754.7V769.3M33.6 93.50H48" stroke="#646464" stroke-width="2.6" fill="none"/><text x="67.06" y="793.30" textLength="17.68" lengthAdjust="spacingAndGlyphs" fill="#0a0a0a" style="font-family:'Liberation Sans',sans-serif;font-size:26.80px;font-weight:normal;font-kerning:none" stroke="#000" stroke-width="0.8">0</text><text x="251.70" y="793.30" textLength="50.38" lengthAdjust="spacingAndGlyphs" fill="#0a0a0a" style="font-family:'Liberation Sans',sans-serif;font-size:26.80px;font-weight:normal;font-kerning:none" stroke="#000" stroke-width="0.8">100</text><text x="460.13" y="793.30" textLength="48.71" lengthAdjust="spacingAndGlyphs" fill="#0a0a0a" style="font-family:'Liberation Sans',sans-serif;font-size:26.80px;font-weight:normal;font-kerning:none" stroke="#000" stroke-width="0.8">200</text><text x="669.98" y="793.30" textLength="49.17" lengthAdjust="spacingAndGlyphs" fill="#0a0a0a" style="font-family:'Liberation Sans',sans-serif;font-size:26.80px;font-weight:normal;font-kerning:none" stroke="#000" stroke-width="0.8">300</text><text transform="translate(29.00,741.60) rotate(-90)" x="0" y="0" textLength="15.71" lengthAdjust="spacingAndGlyphs" fill="#0a0a0a" style="font-family:'Liberation Sans',sans-serif;font-size:26.80px;font-weight:normal;font-kerning:none" stroke="#000" stroke-width="0.8">0</text><text transform="translate(29.00,570.65) rotate(-90)" x="0" y="0" textLength="47.16" lengthAdjust="spacingAndGlyphs" fill="#0a0a0a" style="font-family:'Liberation Sans',sans-serif;font-size:26.80px;font-weight:normal;font-kerning:none" stroke="#000" stroke-width="0.8">100</text><text transform="translate(29.00,390.40) rotate(-90)" x="0" y="0" textLength="46.49" lengthAdjust="spacingAndGlyphs" fill="#0a0a0a" style="font-family:'Liberation Sans',sans-serif;font-size:26.80px;font-weight:normal;font-kerning:none" stroke="#000" stroke-width="0.8">200</text><text transform="translate(29.00,208.03) rotate(-90)" x="0" y="0" textLength="45.08" lengthAdjust="spacingAndGlyphs" fill="#0a0a0a" style="font-family:'Liberation Sans',sans-serif;font-size:26.80px;font-weight:normal;font-kerning:none" stroke="#000" stroke-width="0.8">300</text><path d="M328.2 52.3V754.7M590.5 52.3V754.7" stroke="#0818e6" stroke-width="6"/><text x="134.57" y="32.60" textLength="108.88" lengthAdjust="spacingAndGlyphs" fill="#1010b4" style="font-family:'Liberation Sans',sans-serif;font-size:30.50px;font-weight:normal;font-kerning:none" stroke="#1010b4" stroke-width="0.8">Phase 1</text><text x="405.57" y="32.60" textLength="108.72" lengthAdjust="spacingAndGlyphs" fill="#1010b4" style="font-family:'Liberation Sans',sans-serif;font-size:30.50px;font-weight:normal;font-kerning:none" stroke="#1010b4" stroke-width="0.8">Phase 2</text><text x="675.78" y="32.60" textLength="74.57" lengthAdjust="spacingAndGlyphs" fill="#1010b4" style="font-family:'Liberation Sans',sans-serif;font-size:30.50px;font-weight:normal;font-kerning:none" stroke="#1010b4" stroke-width="0.8">Hook</text><text x="0.89" y="36.40" textLength="35.20" lengthAdjust="spacingAndGlyphs" fill="#000" style="font-family:'Liberation Sans',sans-serif;font-size:50.30px;font-weight:bold;font-kerning:none">A</text><text x="107.05" y="840.00" textLength="664.30" lengthAdjust="spacingAndGlyphs" fill="#000" style="font-family:'Liberation Sans',sans-serif;font-size:31.00px;font-weight:bold;font-kerning:none" stroke="#000" stroke-width="0.5">Sequence (vowel extracted from text data)</text><rect x="202.5" y="548" width="72.8" height="61.8" fill="#fff" fill-opacity="0.3" stroke="#f01010" stroke-width="4.2"/><path d="M284.8 581.1H931" stroke="#dc0a14" stroke-width="4.2" stroke-linecap="round" stroke-dasharray="0 7.69" fill="none"/><path d="M935.5 581.1H942" stroke="#f00" stroke-width="4.4" stroke-linecap="round"/><path d="M940.4 572.4L957.6 581.1L940.4 589.6Z" fill="#f20000" stroke="#f20000" stroke-width="0.8" stroke-linejoin="round"/>
<path d="M1029.5 180.2H1518.4" stroke="#cacaca" stroke-width="1.8"/><path d="M1038.60 130.70 L1052.52 114.40 L1066.44 114.40 L1080.36 163.10 L1094.28 163.10 L1108.20 180.00 L1122.12 163.10 L1136.04 180.00 L1149.96 95.80 L1163.88 163.10 L1177.80 145.50 L1191.72 114.40 L1205.64 114.40 L1219.56 180.00 L1233.48 180.00 L1247.40 163.10 L1261.32 180.00 L1275.24 163.10 L1289.16 145.50 L1303.08 180.00 L1317.00 114.40 L1330.92 114.40 L1344.84 180.00 L1358.76 180.00 L1372.68 163.10 L1386.60 114.40 L1400.52 95.80 L1414.44 114.40 L1428.36 145.50 L1442.28 114.40 L1456.20 180.00 L1470.12 163.10 L1484.04 145.50 L1497.96 145.50 L1511.88 130.70" stroke="#000" stroke-width="2.4" fill="none" stroke-linejoin="round"/><path d="M1108.20 180.00L1122.12 161.10M1233.48 180.00L1247.40 161.10M1358.76 180.00L1372.68 161.10M1456.20 180.00L1470.12 161.10" stroke="#f01010" stroke-width="2.3" fill="none"/><circle cx="1038.60" cy="130.70" r="4.3" fill="#000"/><circle cx="1052.52" cy="114.40" r="4.3" fill="#000"/><circle cx="1066.44" cy="114.40" r="4.3" fill="#000"/><circle cx="1080.36" cy="163.10" r="4.3" fill="#000"/><circle cx="1094.28" cy="163.10" r="4.3" fill="#000"/><circle cx="1108.20" cy="180.00" r="4.3" fill="#ee0000"/><circle cx="1122.12" cy="161.10" r="4.3" fill="#ee0000"/><circle cx="1136.04" cy="180.00" r="4.3" fill="#000"/><circle cx="1149.96" cy="95.80" r="4.3" fill="#000"/><circle cx="1163.88" cy="163.10" r="4.3" fill="#000"/><circle cx="1177.80" cy="145.50" r="4.3" fill="#000"/><circle cx="1191.72" cy="114.40" r="4.3" fill="#000"/><circle cx="1205.64" cy="114.40" r="4.3" fill="#000"/><circle cx="1219.56" cy="180.00" r="4.3" fill="#000"/><circle cx="1233.48" cy="180.00" r="4.3" fill="#ee0000"/><circle cx="1247.40" cy="161.10" r="4.3" fill="#ee0000"/><circle cx="1261.32" cy="180.00" r="4.3" fill="#000"/><circle cx="1275.24" cy="163.10" r="4.3" fill="#000"/><circle cx="1289.16" cy="145.50" r="4.3" fill="#000"/><circle cx="1303.08" cy="180.00" r="4.3" fill="#000"/><circle cx="1317.00" cy="114.40" r="4.3" fill="#000"/><circle cx="1330.92" cy="114.40" r="4.3" fill="#000"/><circle cx="1344.84" cy="180.00" r="4.3" fill="#000"/><circle cx="1358.76" cy="180.00" r="4.3" fill="#ee0000"/><circle cx="1372.68" cy="161.10" r="4.3" fill="#ee0000"/><circle cx="1386.60" cy="114.40" r="4.3" fill="#000"/><circle cx="1400.52" cy="95.80" r="4.3" fill="#000"/><circle cx="1414.44" cy="114.40" r="4.3" fill="#000"/><circle cx="1428.36" cy="145.50" r="4.3" fill="#000"/><circle cx="1442.28" cy="114.40" r="4.3" fill="#000"/><circle cx="1456.20" cy="180.00" r="4.3" fill="#ee0000"/><circle cx="1470.12" cy="161.10" r="4.3" fill="#ee0000"/><circle cx="1484.04" cy="145.50" r="4.3" fill="#000"/><circle cx="1497.96" cy="145.50" r="4.3" fill="#000"/><circle cx="1511.88" cy="130.70" r="4.3" fill="#000"/><text x="1028.89" y="231.00" textLength="16.90" lengthAdjust="spacingAndGlyphs" fill="#0a0a0a" style="font-family:'Liberation Sans',sans-serif;font-size:26.80px;font-weight:normal;font-kerning:none" stroke="#000" stroke-width="0.8">1</text><text x="1085.32" y="231.00" textLength="16.42" lengthAdjust="spacingAndGlyphs" fill="#0a0a0a" style="font-family:'Liberation Sans',sans-serif;font-size:26.80px;font-weight:normal;font-kerning:none" stroke="#000" stroke-width="0.8">5</text><text x="1147.81" y="231.00" textLength="33.47" lengthAdjust="spacingAndGlyphs" fill="#0a0a0a" style="font-family:'Liberation Sans',sans-serif;font-size:26.80px;font-weight:normal;font-kerning:none" stroke="#000" stroke-width="0.8">10</text><text x="1216.06" y="231.00" textLength="32.78" lengthAdjust="spacingAndGlyphs" fill="#0a0a0a" style="font-family:'Liberation Sans',sans-serif;font-size:26.80px;font-weight:normal;font-kerning:none" stroke="#000" stroke-width="0.8">15</text><text x="1285.54" y="231.00" textLength="34.47" lengthAdjust="spacingAndGlyphs" fill="#0a0a0a" style="font-family:'Liberation Sans',sans-serif;font-size:26.80px;font-weight:normal;font-kerning:none" stroke="#000" stroke-width="0.8">20</text><text x="1356.37" y="231.00" textLength="31.62" lengthAdjust="spacingAndGlyphs" fill="#0a0a0a" style="font-family:'Liberation Sans',sans-serif;font-size:26.80px;font-weight:normal;font-kerning:none" stroke="#000" stroke-width="0.8">25</text><text x="1425.96" y="231.00" textLength="33.20" lengthAdjust="spacingAndGlyphs" fill="#0a0a0a" style="font-family:'Liberation Sans',sans-serif;font-size:26.80px;font-weight:normal;font-kerning:none" stroke="#000" stroke-width="0.8">30</text><text x="1495.36" y="231.00" textLength="33.30" lengthAdjust="spacingAndGlyphs" fill="#0a0a0a" style="font-family:'Liberation Sans',sans-serif;font-size:26.80px;font-weight:normal;font-kerning:none" stroke="#000" stroke-width="0.8">35</text><text x="936.80" y="37.60" textLength="34.58" lengthAdjust="spacingAndGlyphs" fill="#000" style="font-family:'Liberation Sans',sans-serif;font-size:50.30px;font-weight:bold;font-kerning:none">B</text><text x="1070.66" y="30.40" textLength="416.36" lengthAdjust="spacingAndGlyphs" fill="#000" style="font-family:'Liberation Sans',sans-serif;font-size:34.30px;font-weight:bold;font-kerning:none" stroke="#000" stroke-width="0.5">Sample sequence of vowel</text>
<path d="M1048.26 740.10a3.1 3.1 0 1 0 6.2 0a3.1 3.1 0 1 0 -6.2 0ZM1048.26 318.50a3.1 3.1 0 1 0 6.2 0a3.1 3.1 0 1 0 -6.2 0ZM1062.12 727.70a3.1 3.1 0 1 0 6.2 0a3.1 3.1 0 1 0 -6.2 0ZM1062.12 715.30a3.1 3.1 0 1 0 6.2 0a3.1 3.1 0 1 0 -6.2 0ZM1062.12 603.70a3.1 3.1 0 1 0 6.2 0a3.1 3.1 0 1 0 -6.2 0ZM1062.12 591.30a3.1 3.1 0 1 0 6.2 0a3.1 3.1 0 1 0 -6.2 0ZM1062.12 492.10a3.1 3.1 0 1 0 6.2 0a3.1 3.1 0 1 0 -6.2 0ZM1062.12 479.70a3.1 3.1 0 1 0 6.2 0a3.1 3.1 0 1 0 -6.2 0ZM1062.12 430.10a3.1 3.1 0 1 0 6.2 0a3.1 3.1 0 1 0 -6.2 0ZM1062.12 405.30a3.1 3.1 0 1 0 6.2 0a3.1 3.1 0 1 0 -6.2 0ZM1062.12 380.50a3.1 3.1 0 1 0 6.2 0a3.1 3.1 0 1 0 -6.2 0ZM1075.98 727.70a3.1 3.1 0 1 0 6.2 0a3.1 3.1 0 1 0 -6.2 0ZM1075.98 715.30a3.1 3.1 0 1 0 6.2 0a3.1 3.1 0 1 0 -6.2 0ZM1075.98 603.70a3.1 3.1 0 1 0 6.2 0a3.1 3.1 0 1 0 -6.2 0ZM1075.98 591.30a3.1 3.1 0 1 0 6.2 0a3.1 3.1 0 1 0 -6.2 0ZM1075.98 492.10a3.1 3.1 0 1 0 6.2 0a3.1 3.1 0 1 0 -6.2 0ZM1075.98 479.70a3.1 3.1 0 1 0 6.2 0a3.1 3.1 0 1 0 -6.2 0ZM1075.98 430.10a3.1 3.1 0 1 0 6.2 0a3.1 3.1 0 1 0 -6.2 0ZM1075.98 405.30a3.1 3.1 0 1 0 6.2 0a3.1 3.1 0 1 0 -6.2 0ZM1075.98 380.50a3.1 3.1 0 1 0 6.2 0a3.1 3.1 0 1 0 -6.2 0ZM1089.84 702.90a3.1 3.1 0 1 0 6.2 0a3.1 3.1 0 1 0 -6.2 0ZM1089.84 690.50a3.1 3.1 0 1 0 6.2 0a3.1 3.1 0 1 0 -6.2 0ZM1089.84 665.70a3.1 3.1 0 1 0 6.2 0a3.1 3.1 0 1 0 -6.2 0ZM1089.84 628.50a3.1 3.1 0 1 0 6.2 0a3.1 3.1 0 1 0 -6.2 0ZM1089.84 554.10a3.1 3.1 0 1 0 6.2 0a3.1 3.1 0 1 0 -6.2 0ZM1089.84 529.30a3.1 3.1 0 1 0 6.2 0a3.1 3.1 0 1 0 -6.2 0ZM1089.84 442.50a3.1 3.1 0 1 0 6.2 0a3.1 3.1 0 1 0 -6.2 0ZM1089.84 355.70a3.1 3.1 0 1 0 6.2 0a3.1 3.1 0 1 0 -6.2 0ZM1103.70 702.90a3.1 3.1 0 1 0 6.2 0a3.1 3.1 0 1 0 -6.2 0ZM1103.70 690.50a3.1 3.1 0 1 0 6.2 0a3.1 3.1 0 1 0 -6.2 0ZM1103.70 665.70a3.1 3.1 0 1 0 6.2 0a3.1 3.1 0 1 0 -6.2 0ZM1103.70 628.50a3.1 3.1 0 1 0 6.2 0a3.1 3.1 0 1 0 -6.2 0ZM1103.70 554.10a3.1 3.1 0 1 0 6.2 0a3.1 3.1 0 1 0 -6.2 0ZM1103.70 529.30a3.1 3.1 0 1 0 6.2 0a3.1 3.1 0 1 0 -6.2 0ZM1103.70 442.50a3.1 3.1 0 1 0 6.2 0a3.1 3.1 0 1 0 -6.2 0ZM1103.70 355.70a3.1 3.1 0 1 0 6.2 0a3.1 3.1 0 1 0 -6.2 0ZM1117.56 678.10a3.1 3.1 0 1 0 6.2 0a3.1 3.1 0 1 0 -6.2 0ZM1117.56 653.30a3.1 3.1 0 1 0 6.2 0a3.1 3.1 0 1 0 -6.2 0ZM1117.56 578.90a3.1 3.1 0 1 0 6.2 0a3.1 3.1 0 1 0 -6.2 0ZM1117.56 566.50a3.1 3.1 0 1 0 6.2 0a3.1 3.1 0 1 0 -6.2 0ZM1117.56 541.70a3.1 3.1 0 1 0 6.2 0a3.1 3.1 0 1 0 -6.2 0ZM1117.56 504.50a3.1 3.1 0 1 0 6.2 0a3.1 3.1 0 1 0 -6.2 0ZM1117.56 467.30a3.1 3.1 0 1 0 6.2 0a3.1 3.1 0 1 0 -6.2 0ZM1117.56 454.90a3.1 3.1 0 1 0 6.2 0a3.1 3.1 0 1 0 -6.2 0ZM1117.56 368.10a3.1 3.1 0 1 0 6.2 0a3.1 3.1 0 1 0 -6.2 0ZM1131.42 702.90a3.1 3.1 0 1 0 6.2 0a3.1 3.1 0 1 0 -6.2 0ZM1131.42 690.50a3.1 3.1 0 1 0 6.2 0a3.1 3.1 0 1 0 -6.2 0ZM1131.42 665.70a3.1 3.1 0 1 0 6.2 0a3.1 3.1 0 1 0 -6.2 0ZM1131.42 628.50a3.1 3.1 0 1 0 6.2 0a3.1 3.1 0 1 0 -6.2 0ZM1131.42 554.10a3.1 3.1 0 1 0 6.2 0a3.1 3.1 0 1 0 -6.2 0ZM1131.42 529.30a3.1 3.1 0 1 0 6.2 0a3.1 3.1 0 1 0 -6.2 0ZM1131.42 442.50a3.1 3.1 0 1 0 6.2 0a3.1 3.1 0 1 0 -6.2 0ZM1131.42 355.70a3.1 3.1 0 1 0 6.2 0a3.1 3.1 0 1 0 -6.2 0ZM1145.28 678.10a3.1 3.1 0 1 0 6.2 0a3.1 3.1 0 1 0 -6.2 0ZM1145.28 653.30a3.1 3.1 0 1 0 6.2 0a3.1 3.1 0 1 0 -6.2 0ZM1145.28 578.90a3.1 3.1 0 1 0 6.2 0a3.1 3.1 0 1 0 -6.2 0ZM1145.28 566.50a3.1 3.1 0 1 0 6.2 0a3.1 3.1 0 1 0 -6.2 0ZM1145.28 541.70a3.1 3.1 0 1 0 6.2 0a3.1 3.1 0 1 0 -6.2 0ZM1145.28 504.50a3.1 3.1 0 1 0 6.2 0a3.1 3.1 0 1 0 -6.2 0ZM1145.28 467.30a3.1 3.1 0 1 0 6.2 0a3.1 3.1 0 1 0 -6.2 0ZM1145.28 454.90a3.1 3.1 0 1 0 6.2 0a3.1 3.1 0 1 0 -6.2 0ZM1145.28 368.10a3.1 3.1 0 1 0 6.2 0a3.1 3.1 0 1 0 -6.2 0ZM1159.14 640.90a3.1 3.1 0 1 0 6.2 0a3.1 3.1 0 1 0 -6.2 0ZM1159.14 417.70a3.1 3.1 0 1 0 6.2 0a3.1 3.1 0 1 0 -6.2 0ZM1173.00 702.90a3.1 3.1 0 1 0 6.2 0a3.1 3.1 0 1 0 -6.2 0ZM1173.00 690.50a3.1 3.1 0 1 0 6.2 0a3.1 3.1 0 1 0 -6.2 0ZM1173.00 665.70a3.1 3.1 0 1 0 6.2 0a3.1 3.1 0 1 0 -6.2 0ZM1173.00 628.50a3.1 3.1 0 1 0 6.2 0a3.1 3.1 0 1 0 -6.2 0ZM1173.00 554.10a3.1 3.1 0 1 0 6.2 0a3.1 3.1 0 1 0 -6.2 0ZM1173.00 529.30a3.1 3.1 0 1 0 6.2 0a3.1 3.1 0 1 0 -6.2 0ZM1173.00 442.50a3.1 3.1 0 1 0 6.2 0a3.1 3.1 0 1 0 -6.2 0ZM1173.00 355.70a3.1 3.1 0 1 0 6.2 0a3.1 3.1 0 1 0 -6.2 0ZM1186.86 616.10a3.1 3.1 0 1 0 6.2 0a3.1 3.1 0 1 0 -6.2 0ZM1186.86 516.90a3.1 3.1 0 1 0 6.2 0a3.1 3.1 0 1 0 -6.2 0ZM1186.86 392.90a3.1 3.1 0 1 0 6.2 0a3.1 3.1 0 1 0 -6.2 0ZM1186.86 343.30a3.1 3.1 0 1 0 6.2 0a3.1 3.1 0 1 0 -6.2 0ZM1186.86 330.90a3.1 3.1 0 1 0 6.2 0a3.1 3.1 0 1 0 -6.2 0ZM1200.72 727.70a3.1 3.1 0 1 0 6.2 0a3.1 3.1 0 1 0 -6.2 0ZM1200.72 715.30a3.1 3.1 0 1 0 6.2 0a3.1 3.1 0 1 0 -6.2 0ZM1200.72 603.70a3.1 3.1 0 1 0 6.2 0a3.1 3.1 0 1 0 -6.2 0ZM1200.72 591.30a3.1 3.1 0 1 0 6.2 0a3.1 3.1 0 1 0 -6.2 0ZM1200.72 492.10a3.1 3.1 0 1 0 6.2 0a3.1 3.1 0 1 0 -6.2 0ZM1200.72 479.70a3.1 3.1 0 1 0 6.2 0a3.1 3.1 0 1 0 -6.2 0ZM1200.72 430.10a3.1 3.1 0 1 0 6.2 0a3.1 3.1 0 1 0 -6.2 0ZM1200.72 405.30a3.1 3.1 0 1 0 6.2 0a3.1 3.1 0 1 0 -6.2 0ZM1200.72 380.50a3.1 3.1 0 1 0 6.2 0a3.1 3.1 0 1 0 -6.2 0ZM1214.58 727.70a3.1 3.1 0 1 0 6.2 0a3.1 3.1 0 1 0 -6.2 0ZM1214.58 715.30a3.1 3.1 0 1 0 6.2 0a3.1 3.1 0 1 0 -6.2 0ZM1214.58 603.70a3.1 3.1 0 1 0 6.2 0a3.1 3.1 0 1 0 -6.2 0ZM1214.58 591.30a3.1 3.1 0 1 0 6.2 0a3.1 3.1 0 1 0 -6.2 0ZM1214.58 492.10a3.1 3.1 0 1 0 6.2 0a3.1 3.1 0 1 0 -6.2 0ZM1214.58 479.70a3.1 3.1 0 1 0 6.2 0a3.1 3.1 0 1 0 -6.2 0ZM1214.58 430.10a3.1 3.1 0 1 0 6.2 0a3.1 3.1 0 1 0 -6.2 0ZM1214.58 405.30a3.1 3.1 0 1 0 6.2 0a3.1 3.1 0 1 0 -6.2 0ZM1214.58 380.50a3.1 3.1 0 1 0 6.2 0a3.1 3.1 0 1 0 -6.2 0ZM1228.44 678.10a3.1 3.1 0 1 0 6.2 0a3.1 3.1 0 1 0 -6.2 0ZM1228.44 653.30a3.1 3.1 0 1 0 6.2 0a3.1 3.1 0 1 0 -6.2 0ZM1228.44 578.90a3.1 3.1 0 1 0 6.2 0a3.1 3.1 0 1 0 -6.2 0ZM1228.44 566.50a3.1 3.1 0 1 0 6.2 0a3.1 3.1 0 1 0 -6.2 0ZM1228.44 541.70a3.1 3.1 0 1 0 6.2 0a3.1 3.1 0 1 0 -6.2 0ZM1228.44 504.50a3.1 3.1 0 1 0 6.2 0a3.1 3.1 0 1 0 -6.2 0ZM1228.44 467.30a3.1 3.1 0 1 0 6.2 0a3.1 3.1 0 1 0 -6.2 0ZM1228.44 454.90a3.1 3.1 0 1 0 6.2 0a3.1 3.1 0 1 0 -6.2 0ZM1228.44 368.10a3.1 3.1 0 1 0 6.2 0a3.1 3.1 0 1 0 -6.2 0ZM1242.30 678.10a3.1 3.1 0 1 0 6.2 0a3.1 3.1 0 1 0 -6.2 0ZM1242.30 653.30a3.1 3.1 0 1 0 6.2 0a3.1 3.1 0 1 0 -6.2 0ZM1242.30 578.90a3.1 3.1 0 1 0 6.2 0a3.1 3.1 0 1 0 -6.2 0ZM1242.30 566.50a3.1 3.1 0 1 0 6.2 0a3.1 3.1 0 1 0 -6.2 0ZM1242.30 541.70a3.1 3.1 0 1 0 6.2 0a3.1 3.1 0 1 0 -6.2 0ZM1242.30 504.50a3.1 3.1 0 1 0 6.2 0a3.1 3.1 0 1 0 -6.2 0ZM1242.30 467.30a3.1 3.1 0 1 0 6.2 0a3.1 3.1 0 1 0 -6.2 0ZM1242.30 454.90a3.1 3.1 0 1 0 6.2 0a3.1 3.1 0 1 0 -6.2 0ZM1242.30 368.10a3.1 3.1 0 1 0 6.2 0a3.1 3.1 0 1 0 -6.2 0ZM1256.16 702.90a3.1 3.1 0 1 0 6.2 0a3.1 3.1 0 1 0 -6.2 0ZM1256.16 690.50a3.1 3.1 0 1 0 6.2 0a3.1 3.1 0 1 0 -6.2 0ZM1256.16 665.70a3.1 3.1 0 1 0 6.2 0a3.1 3.1 0 1 0 -6.2 0ZM1256.16 628.50a3.1 3.1 0 1 0 6.2 0a3.1 3.1 0 1 0 -6.2 0ZM1256.16 554.10a3.1 3.1 0 1 0 6.2 0a3.1 3.1 0 1 0 -6.2 0ZM1256.16 529.30a3.1 3.1 0 1 0 6.2 0a3.1 3.1 0 1 0 -6.2 0ZM1256.16 442.50a3.1 3.1 0 1 0 6.2 0a3.1 3.1 0 1 0 -6.2 0ZM1256.16 355.70a3.1 3.1 0 1 0 6.2 0a3.1 3.1 0 1 0 -6.2 0ZM1270.02 678.10a3.1 3.1 0 1 0 6.2 0a3.1 3.1 0 1 0 -6.2 0ZM1270.02 653.30a3.1 3.1 0 1 0 6.2 0a3.1 3.1 0 1 0 -6.2 0ZM1270.02 578.90a3.1 3.1 0 1 0 6.2 0a3.1 3.1 0 1 0 -6.2 0ZM1270.02 566.50a3.1 3.1 0 1 0 6.2 0a3.1 3.1 0 1 0 -6.2 0ZM1270.02 541.70a3.1 3.1 0 1 0 6.2 0a3.1 3.1 0 1 0 -6.2 0ZM1270.02 504.50a3.1 3.1 0 1 0 6.2 0a3.1 3.1 0 1 0 -6.2 0ZM1270.02 467.30a3.1 3.1 0 1 0 6.2 0a3.1 3.1 0 1 0 -6.2 0ZM1270.02 454.90a3.1 3.1 0 1 0 6.2 0a3.1 3.1 0 1 0 -6.2 0ZM1270.02 368.10a3.1 3.1 0 1 0 6.2 0a3.1 3.1 0 1 0 -6.2 0ZM1283.88 702.90a3.1 3.1 0 1 0 6.2 0a3.1 3.1 0 1 0 -6.2 0ZM1283.88 690.50a3.1 3.1 0 1 0 6.2 0a3.1 3.1 0 1 0 -6.2 0ZM1283.88 665.70a3.1 3.1 0 1 0 6.2 0a3.1 3.1 0 1 0 -6.2 0ZM1283.88 628.50a3.1 3.1 0 1 0 6.2 0a3.1 3.1 0 1 0 -6.2 0ZM1283.88 554.10a3.1 3.1 0 1 0 6.2 0a3.1 3.1 0 1 0 -6.2 0ZM1283.88 529.30a3.1 3.1 0 1 0 6.2 0a3.1 3.1 0 1 0 -6.2 0ZM1283.88 442.50a3.1 3.1 0 1 0 6.2 0a3.1 3.1 0 1 0 -6.2 0ZM1283.88 355.70a3.1 3.1 0 1 0 6.2 0a3.1 3.1 0 1 0 -6.2 0ZM1297.74 616.10a3.1 3.1 0 1 0 6.2 0a3.1 3.1 0 1 0 -6.2 0ZM1297.74 516.90a3.1 3.1 0 1 0 6.2 0a3.1 3.1 0 1 0 -6.2 0ZM1297.74 392.90a3.1 3.1 0 1 0 6.2 0a3.1 3.1 0 1 0 -6.2 0ZM1297.74 343.30a3.1 3.1 0 1 0 6.2 0a3.1 3.1 0 1 0 -6.2 0ZM1297.74 330.90a3.1 3.1 0 1 0 6.2 0a3.1 3.1 0 1 0 -6.2 0ZM1311.60 678.10a3.1 3.1 0 1 0 6.2 0a3.1 3.1 0 1 0 -6.2 0ZM1311.60 653.30a3.1 3.1 0 1 0 6.2 0a3.1 3.1 0 1 0 -6.2 0ZM1311.60 578.90a3.1 3.1 0 1 0 6.2 0a3.1 3.1 0 1 0 -6.2 0ZM1311.60 566.50a3.1 3.1 0 1 0 6.2 0a3.1 3.1 0 1 0 -6.2 0ZM1311.60 541.70a3.1 3.1 0 1 0 6.2 0a3.1 3.1 0 1 0 -6.2 0ZM1311.60 504.50a3.1 3.1 0 1 0 6.2 0a3.1 3.1 0 1 0 -6.2 0ZM1311.60 467.30a3.1 3.1 0 1 0 6.2 0a3.1 3.1 0 1 0 -6.2 0ZM1311.60 454.90a3.1 3.1 0 1 0 6.2 0a3.1 3.1 0 1 0 -6.2 0ZM1311.60 368.10a3.1 3.1 0 1 0 6.2 0a3.1 3.1 0 1 0 -6.2 0ZM1325.46 727.70a3.1 3.1 0 1 0 6.2 0a3.1 3.1 0 1 0 -6.2 0ZM1325.46 715.30a3.1 3.1 0 1 0 6.2 0a3.1 3.1 0 1 0 -6.2 0ZM1325.46 603.70a3.1 3.1 0 1 0 6.2 0a3.1 3.1 0 1 0 -6.2 0ZM1325.46 591.30a3.1 3.1 0 1 0 6.2 0a3.1 3.1 0 1 0 -6.2 0ZM1325.46 492.10a3.1 3.1 0 1 0 6.2 0a3.1 3.1 0 1 0 -6.2 0ZM1325.46 479.70a3.1 3.1 0 1 0 6.2 0a3.1 3.1 0 1 0 -6.2 0ZM1325.46 430.10a3.1 3.1 0 1 0 6.2 0a3.1 3.1 0 1 0 -6.2 0ZM1325.46 405.30a3.1 3.1 0 1 0 6.2 0a3.1 3.1 0 1 0 -6.2 0ZM1325.46 380.50a3.1 3.1 0 1 0 6.2 0a3.1 3.1 0 1 0 -6.2 0ZM1339.32 727.70a3.1 3.1 0 1 0 6.2 0a3.1 3.1 0 1 0 -6.2 0ZM1339.32 715.30a3.1 3.1 0 1 0 6.2 0a3.1 3.1 0 1 0 -6.2 0ZM1339.32 603.70a3.1 3.1 0 1 0 6.2 0a3.1 3.1 0 1 0 -6.2 0ZM1339.32 591.30a3.1 3.1 0 1 0 6.2 0a3.1 3.1 0 1 0 -6.2 0ZM1339.32 492.10a3.1 3.1 0 1 0 6.2 0a3.1 3.1 0 1 0 -6.2 0ZM1339.32 479.70a3.1 3.1 0 1 0 6.2 0a3.1 3.1 0 1 0 -6.2 0ZM1339.32 430.10a3.1 3.1 0 1 0 6.2 0a3.1 3.1 0 1 0 -6.2 0ZM1339.32 405.30a3.1 3.1 0 1 0 6.2 0a3.1 3.1 0 1 0 -6.2 0ZM1339.32 380.50a3.1 3.1 0 1 0 6.2 0a3.1 3.1 0 1 0 -6.2 0ZM1353.18 678.10a3.1 3.1 0 1 0 6.2 0a3.1 3.1 0 1 0 -6.2 0ZM1353.18 653.30a3.1 3.1 0 1 0 6.2 0a3.1 3.1 0 1 0 -6.2 0ZM1353.18 578.90a3.1 3.1 0 1 0 6.2 0a3.1 3.1 0 1 0 -6.2 0ZM1353.18 566.50a3.1 3.1 0 1 0 6.2 0a3.1 3.1 0 1 0 -6.2 0ZM1353.18 541.70a3.1 3.1 0 1 0 6.2 0a3.1 3.1 0 1 0 -6.2 0ZM1353.18 504.50a3.1 3.1 0 1 0 6.2 0a3.1 3.1 0 1 0 -6.2 0ZM1353.18 467.30a3.1 3.1 0 1 0 6.2 0a3.1 3.1 0 1 0 -6.2 0ZM1353.18 454.90a3.1 3.1 0 1 0 6.2 0a3.1 3.1 0 1 0 -6.2 0ZM1353.18 368.10a3.1 3.1 0 1 0 6.2 0a3.1 3.1 0 1 0 -6.2 0ZM1367.04 678.10a3.1 3.1 0 1 0 6.2 0a3.1 3.1 0 1 0 -6.2 0ZM1367.04 653.30a3.1 3.1 0 1 0 6.2 0a3.1 3.1 0 1 0 -6.2 0ZM1367.04 578.90a3.1 3.1 0 1 0 6.2 0a3.1 3.1 0 1 0 -6.2 0ZM1367.04 566.50a3.1 3.1 0 1 0 6.2 0a3.1 3.1 0 1 0 -6.2 0ZM1367.04 541.70a3.1 3.1 0 1 0 6.2 0a3.1 3.1 0 1 0 -6.2 0ZM1367.04 504.50a3.1 3.1 0 1 0 6.2 0a3.1 3.1 0 1 0 -6.2 0ZM1367.04 467.30a3.1 3.1 0 1 0 6.2 0a3.1 3.1 0 1 0 -6.2 0ZM1367.04 454.90a3.1 3.1 0 1 0 6.2 0a3.1 3.1 0 1 0 -6.2 0ZM1367.04 368.10a3.1 3.1 0 1 0 6.2 0a3.1 3.1 0 1 0 -6.2 0ZM1380.90 702.90a3.1 3.1 0 1 0 6.2 0a3.1 3.1 0 1 0 -6.2 0ZM1380.90 690.50a3.1 3.1 0 1 0 6.2 0a3.1 3.1 0 1 0 -6.2 0ZM1380.90 665.70a3.1 3.1 0 1 0 6.2 0a3.1 3.1 0 1 0 -6.2 0ZM1380.90 628.50a3.1 3.1 0 1 0 6.2 0a3.1 3.1 0 1 0 -6.2 0ZM1380.90 554.10a3.1 3.1 0 1 0 6.2 0a3.1 3.1 0 1 0 -6.2 0ZM1380.90 529.30a3.1 3.1 0 1 0 6.2 0a3.1 3.1 0 1 0 -6.2 0ZM1380.90 442.50a3.1 3.1 0 1 0 6.2 0a3.1 3.1 0 1 0 -6.2 0ZM1380.90 355.70a3.1 3.1 0 1 0 6.2 0a3.1 3.1 0 1 0 -6.2 0ZM1394.76 727.70a3.1 3.1 0 1 0 6.2 0a3.1 3.1 0 1 0 -6.2 0ZM1394.76 715.30a3.1 3.1 0 1 0 6.2 0a3.1 3.1 0 1 0 -6.2 0ZM1394.76 603.70a3.1 3.1 0 1 0 6.2 0a3.1 3.1 0 1 0 -6.2 0ZM1394.76 591.30a3.1 3.1 0 1 0 6.2 0a3.1 3.1 0 1 0 -6.2 0ZM1394.76 492.10a3.1 3.1 0 1 0 6.2 0a3.1 3.1 0 1 0 -6.2 0ZM1394.76 479.70a3.1 3.1 0 1 0 6.2 0a3.1 3.1 0 1 0 -6.2 0ZM1394.76 430.10a3.1 3.1 0 1 0 6.2 0a3.1 3.1 0 1 0 -6.2 0ZM1394.76 405.30a3.1 3.1 0 1 0 6.2 0a3.1 3.1 0 1 0 -6.2 0ZM1394.76 380.50a3.1 3.1 0 1 0 6.2 0a3.1 3.1 0 1 0 -6.2 0ZM1408.62 640.90a3.1 3.1 0 1 0 6.2 0a3.1 3.1 0 1 0 -6.2 0ZM1408.62 417.70a3.1 3.1 0 1 0 6.2 0a3.1 3.1 0 1 0 -6.2 0ZM1422.48 727.70a3.1 3.1 0 1 0 6.2 0a3.1 3.1 0 1 0 -6.2 0ZM1422.48 715.30a3.1 3.1 0 1 0 6.2 0a3.1 3.1 0 1 0 -6.2 0ZM1422.48 603.70a3.1 3.1 0 1 0 6.2 0a3.1 3.1 0 1 0 -6.2 0ZM1422.48 591.30a3.1 3.1 0 1 0 6.2 0a3.1 3.1 0 1 0 -6.2 0ZM1422.48 492.10a3.1 3.1 0 1 0 6.2 0a3.1 3.1 0 1 0 -6.2 0ZM1422.48 479.70a3.1 3.1 0 1 0 6.2 0a3.1 3.1 0 1 0 -6.2 0ZM1422.48 430.10a3.1 3.1 0 1 0 6.2 0a3.1 3.1 0 1 0 -6.2 0ZM1422.48 405.30a3.1 3.1 0 1 0 6.2 0a3.1 3.1 0 1 0 -6.2 0ZM1422.48 380.50a3.1 3.1 0 1 0 6.2 0a3.1 3.1 0 1 0 -6.2 0ZM1436.34 616.10a3.1 3.1 0 1 0 6.2 0a3.1 3.1 0 1 0 -6.2 0ZM1436.34 516.90a3.1 3.1 0 1 0 6.2 0a3.1 3.1 0 1 0 -6.2 0ZM1436.34 392.90a3.1 3.1 0 1 0 6.2 0a3.1 3.1 0 1 0 -6.2 0ZM1436.34 343.30a3.1 3.1 0 1 0 6.2 0a3.1 3.1 0 1 0 -6.2 0ZM1436.34 330.90a3.1 3.1 0 1 0 6.2 0a3.1 3.1 0 1 0 -6.2 0ZM1450.20 727.70a3.1 3.1 0 1 0 6.2 0a3.1 3.1 0 1 0 -6.2 0ZM1450.20 715.30a3.1 3.1 0 1 0 6.2 0a3.1 3.1 0 1 0 -6.2 0ZM1450.20 603.70a3.1 3.1 0 1 0 6.2 0a3.1 3.1 0 1 0 -6.2 0ZM1450.20 591.30a3.1 3.1 0 1 0 6.2 0a3.1 3.1 0 1 0 -6.2 0ZM1450.20 492.10a3.1 3.1 0 1 0 6.2 0a3.1 3.1 0 1 0 -6.2 0ZM1450.20 479.70a3.1 3.1 0 1 0 6.2 0a3.1 3.1 0 1 0 -6.2 0ZM1450.20 430.10a3.1 3.1 0 1 0 6.2 0a3.1 3.1 0 1 0 -6.2 0ZM1450.20 405.30a3.1 3.1 0 1 0 6.2 0a3.1 3.1 0 1 0 -6.2 0ZM1450.20 380.50a3.1 3.1 0 1 0 6.2 0a3.1 3.1 0 1 0 -6.2 0ZM1464.06 678.10a3.1 3.1 0 1 0 6.2 0a3.1 3.1 0 1 0 -6.2 0ZM1464.06 653.30a3.1 3.1 0 1 0 6.2 0a3.1 3.1 0 1 0 -6.2 0ZM1464.06 578.90a3.1 3.1 0 1 0 6.2 0a3.1 3.1 0 1 0 -6.2 0ZM1464.06 566.50a3.1 3.1 0 1 0 6.2 0a3.1 3.1 0 1 0 -6.2 0ZM1464.06 541.70a3.1 3.1 0 1 0 6.2 0a3.1 3.1 0 1 0 -6.2 0ZM1464.06 504.50a3.1 3.1 0 1 0 6.2 0a3.1 3.1 0 1 0 -6.2 0ZM1464.06 467.30a3.1 3.1 0 1 0 6.2 0a3.1 3.1 0 1 0 -6.2 0ZM1464.06 454.90a3.1 3.1 0 1 0 6.2 0a3.1 3.1 0 1 0 -6.2 0ZM1464.06 368.10a3.1 3.1 0 1 0 6.2 0a3.1 3.1 0 1 0 -6.2 0ZM1477.92 702.90a3.1 3.1 0 1 0 6.2 0a3.1 3.1 0 1 0 -6.2 0ZM1477.92 690.50a3.1 3.1 0 1 0 6.2 0a3.1 3.1 0 1 0 -6.2 0ZM1477.92 665.70a3.1 3.1 0 1 0 6.2 0a3.1 3.1 0 1 0 -6.2 0ZM1477.92 628.50a3.1 3.1 0 1 0 6.2 0a3.1 3.1 0 1 0 -6.2 0ZM1477.92 554.10a3.1 3.1 0 1 0 6.2 0a3.1 3.1 0 1 0 -6.2 0ZM1477.92 529.30a3.1 3.1 0 1 0 6.2 0a3.1 3.1 0 1 0 -6.2 0ZM1477.92 442.50a3.1 3.1 0 1 0 6.2 0a3.1 3.1 0 1 0 -6.2 0ZM1477.92 355.70a3.1 3.1 0 1 0 6.2 0a3.1 3.1 0 1 0 -6.2 0ZM1491.78 616.10a3.1 3.1 0 1 0 6.2 0a3.1 3.1 0 1 0 -6.2 0ZM1491.78 516.90a3.1 3.1 0 1 0 6.2 0a3.1 3.1 0 1 0 -6.2 0ZM1491.78 392.90a3.1 3.1 0 1 0 6.2 0a3.1 3.1 0 1 0 -6.2 0ZM1491.78 343.30a3.1 3.1 0 1 0 6.2 0a3.1 3.1 0 1 0 -6.2 0ZM1491.78 330.90a3.1 3.1 0 1 0 6.2 0a3.1 3.1 0 1 0 -6.2 0ZM1505.64 616.10a3.1 3.1 0 1 0 6.2 0a3.1 3.1 0 1 0 -6.2 0ZM1505.64 516.90a3.1 3.1 0 1 0 6.2 0a3.1 3.1 0 1 0 -6.2 0ZM1505.64 392.90a3.1 3.1 0 1 0 6.2 0a3.1 3.1 0 1 0 -6.2 0ZM1505.64 343.30a3.1 3.1 0 1 0 6.2 0a3.1 3.1 0 1 0 -6.2 0ZM1505.64 330.90a3.1 3.1 0 1 0 6.2 0a3.1 3.1 0 1 0 -6.2 0ZM1519.50 740.10a3.1 3.1 0 1 0 6.2 0a3.1 3.1 0 1 0 -6.2 0ZM1519.50 318.50a3.1 3.1 0 1 0 6.2 0a3.1 3.1 0 1 0 -6.2 0Z" fill="#000"/><path d="M1034 757.7L1541 304.8" stroke="#ff2424" stroke-opacity="0.85" stroke-width="8.5"/><path d="M1048.26 740.10a3.1 3.1 0 1 0 6.2 0a3.1 3.1 0 1 0 -6.2 0ZM1062.12 727.70a3.1 3.1 0 1 0 6.2 0a3.1 3.1 0 1 0 -6.2 0ZM1075.98 715.30a3.1 3.1 0 1 0 6.2 0a3.1 3.1 0 1 0 -6.2 0ZM1089.84 702.90a3.1 3.1 0 1 0 6.2 0a3.1 3.1 0 1 0 -6.2 0ZM1103.70 690.50a3.1 3.1 0 1 0 6.2 0a3.1 3.1 0 1 0 -6.2 0ZM1117.56 678.10a3.1 3.1 0 1 0 6.2 0a3.1 3.1 0 1 0 -6.2 0ZM1131.42 665.70a3.1 3.1 0 1 0 6.2 0a3.1 3.1 0 1 0 -6.2 0ZM1145.28 653.30a3.1 3.1 0 1 0 6.2 0a3.1 3.1 0 1 0 -6.2 0ZM1159.14 640.90a3.1 3.1 0 1 0 6.2 0a3.1 3.1 0 1 0 -6.2 0ZM1173.00 628.50a3.1 3.1 0 1 0 6.2 0a3.1 3.1 0 1 0 -6.2 0ZM1186.86 616.10a3.1 3.1 0 1 0 6.2 0a3.1 3.1 0 1 0 -6.2 0ZM1200.72 603.70a3.1 3.1 0 1 0 6.2 0a3.1 3.1 0 1 0 -6.2 0ZM1214.58 591.30a3.1 3.1 0 1 0 6.2 0a3.1 3.1 0 1 0 -6.2 0ZM1228.44 578.90a3.1 3.1 0 1 0 6.2 0a3.1 3.1 0 1 0 -6.2 0ZM1242.30 566.50a3.1 3.1 0 1 0 6.2 0a3.1 3.1 0 1 0 -6.2 0ZM1256.16 554.10a3.1 3.1 0 1 0 6.2 0a3.1 3.1 0 1 0 -6.2 0ZM1270.02 541.70a3.1 3.1 0 1 0 6.2 0a3.1 3.1 0 1 0 -6.2 0ZM1283.88 529.30a3.1 3.1 0 1 0 6.2 0a3.1 3.1 0 1 0 -6.2 0ZM1297.74 516.90a3.1 3.1 0 1 0 6.2 0a3.1 3.1 0 1 0 -6.2 0ZM1311.60 504.50a3.1 3.1 0 1 0 6.2 0a3.1 3.1 0 1 0 -6.2 0ZM1325.46 492.10a3.1 3.1 0 1 0 6.2 0a3.1 3.1 0 1 0 -6.2 0ZM1339.32 479.70a3.1 3.1 0 1 0 6.2 0a3.1 3.1 0 1 0 -6.2 0ZM1353.18 467.30a3.1 3.1 0 1 0 6.2 0a3.1 3.1 0 1 0 -6.2 0ZM1367.04 454.90a3.1 3.1 0 1 0 6.2 0a3.1 3.1 0 1 0 -6.2 0ZM1380.90 442.50a3.1 3.1 0 1 0 6.2 0a3.1 3.1 0 1 0 -6.2 0ZM1394.76 430.10a3.1 3.1 0 1 0 6.2 0a3.1 3.1 0 1 0 -6.2 0ZM1408.62 417.70a3.1 3.1 0 1 0 6.2 0a3.1 3.1 0 1 0 -6.2 0ZM1422.48 405.30a3.1 3.1 0 1 0 6.2 0a3.1 3.1 0 1 0 -6.2 0ZM1436.34 392.90a3.1 3.1 0 1 0 6.2 0a3.1 3.1 0 1 0 -6.2 0ZM1450.20 380.50a3.1 3.1 0 1 0 6.2 0a3.1 3.1 0 1 0 -6.2 0ZM1464.06 368.10a3.1 3.1 0 1 0 6.2 0a3.1 3.1 0 1 0 -6.2 0ZM1477.92 355.70a3.1 3.1 0 1 0 6.2 0a3.1 3.1 0 1 0 -6.2 0ZM1491.78 343.30a3.1 3.1 0 1 0 6.2 0a3.1 3.1 0 1 0 -6.2 0ZM1505.64 330.90a3.1 3.1 0 1 0 6.2 0a3.1 3.1 0 1 0 -6.2 0ZM1519.50 318.50a3.1 3.1 0 1 0 6.2 0a3.1 3.1 0 1 0 -6.2 0Z" fill="#600808" fill-opacity="0.85"/><path d="M1239.16 684.92L1266.19 662.23M1363.90 684.92L1390.93 662.23M1460.92 684.92L1487.95 662.23M1363.90 573.32L1390.93 550.63M1460.92 573.32L1487.95 550.63M1460.92 461.72L1487.95 439.03" stroke="#f02020" stroke-opacity="0.88" stroke-width="5.8" stroke-linecap="round"/><path d="M1034 757.7V304.8" stroke="#a00000" stroke-width="4.2"/><path d="M1032 304.8H1541V757.7H1032" stroke="#ff0000" stroke-width="4.2" fill="none"/><path d="M1032 302.6H1542" stroke="#2a4048" stroke-opacity="0.55" stroke-width="1"/><path d="M1037.50 759.5V766M1022 752.50H1032M1106.80 759.5V766M1022 690.50H1032M1176.10 759.5V766M1022 628.50H1032M1245.40 759.5V766M1022 566.50H1032M1314.70 759.5V766M1022 504.50H1032M1384.00 759.5V766M1022 442.50H1032M1453.30 759.5V766M1022 380.50H1032M1522.60 759.5V766M1022 318.50H1032" stroke="#666" stroke-width="2" fill="none"/><text x="1028.38" y="791.50" textLength="18.85" lengthAdjust="spacingAndGlyphs" fill="#0a0a0a" style="font-family:'Liberation Sans',sans-serif;font-size:28.50px;font-weight:normal;font-kerning:none" stroke="#000" stroke-width="0.8">0</text><text x="1094.96" y="791.50" textLength="15.84" lengthAdjust="spacingAndGlyphs" fill="#0a0a0a" style="font-family:'Liberation Sans',sans-serif;font-size:28.50px;font-weight:normal;font-kerning:none" stroke="#000" stroke-width="0.8">5</text><text x="1159.11" y="791.50" textLength="34.92" lengthAdjust="spacingAndGlyphs" fill="#0a0a0a" style="font-family:'Liberation Sans',sans-serif;font-size:28.50px;font-weight:normal;font-kerning:none" stroke="#000" stroke-width="0.8">10</text><text x="1232.17" y="791.50" textLength="32.56" lengthAdjust="spacingAndGlyphs" fill="#0a0a0a" style="font-family:'Liberation Sans',sans-serif;font-size:28.50px;font-weight:normal;font-kerning:none" stroke="#000" stroke-width="0.8">15</text><text x="1300.06" y="791.50" textLength="34.03" lengthAdjust="spacingAndGlyphs" fill="#0a0a0a" style="font-family:'Liberation Sans',sans-serif;font-size:28.50px;font-weight:normal;font-kerning:none" stroke="#000" stroke-width="0.8">20</text><text x="1375.24" y="791.50" textLength="32.39" lengthAdjust="spacingAndGlyphs" fill="#0a0a0a" style="font-family:'Liberation Sans',sans-serif;font-size:28.50px;font-weight:normal;font-kerning:none" stroke="#000" stroke-width="0.8">25</text><text x="1439.73" y="791.50" textLength="34.28" lengthAdjust="spacingAndGlyphs" fill="#0a0a0a" style="font-family:'Liberation Sans',sans-serif;font-size:28.50px;font-weight:normal;font-kerning:none" stroke="#000" stroke-width="0.8">30</text><text x="1507.26" y="791.50" textLength="33.19" lengthAdjust="spacingAndGlyphs" fill="#0a0a0a" style="font-family:'Liberation Sans',sans-serif;font-size:28.50px;font-weight:normal;font-kerning:none" stroke="#000" stroke-width="0.8">35</text><text transform="translate(1013.30,757.80) rotate(-90)" x="0" y="0" textLength="21.29" lengthAdjust="spacingAndGlyphs" fill="#0a0a0a" style="font-family:'Liberation Sans',sans-serif;font-size:26.70px;font-weight:normal;font-kerning:none" stroke="#000" stroke-width="0.8">0</text><text transform="translate(1013.30,701.06) rotate(-90)" x="0" y="0" textLength="14.78" lengthAdjust="spacingAndGlyphs" fill="#0a0a0a" style="font-family:'Liberation Sans',sans-serif;font-size:26.70px;font-weight:normal;font-kerning:none" stroke="#000" stroke-width="0.8">5</text><text transform="translate(1013.30,644.55) rotate(-90)" x="0" y="0" textLength="31.35" lengthAdjust="spacingAndGlyphs" fill="#0a0a0a" style="font-family:'Liberation Sans',sans-serif;font-size:26.70px;font-weight:normal;font-kerning:none" stroke="#000" stroke-width="0.8">10</text><text transform="translate(1013.30,585.66) rotate(-90)" x="0" y="0" textLength="33.01" lengthAdjust="spacingAndGlyphs" fill="#0a0a0a" style="font-family:'Liberation Sans',sans-serif;font-size:26.70px;font-weight:normal;font-kerning:none" stroke="#000" stroke-width="0.8">15</text><text transform="translate(1013.30,523.62) rotate(-90)" x="0" y="0" textLength="31.32" lengthAdjust="spacingAndGlyphs" fill="#0a0a0a" style="font-family:'Liberation Sans',sans-serif;font-size:26.70px;font-weight:normal;font-kerning:none" stroke="#000" stroke-width="0.8">20</text><text transform="translate(1013.30,463.06) rotate(-90)" x="0" y="0" textLength="32.28" lengthAdjust="spacingAndGlyphs" fill="#0a0a0a" style="font-family:'Liberation Sans',sans-serif;font-size:26.70px;font-weight:normal;font-kerning:none" stroke="#000" stroke-width="0.8">25</text><text transform="translate(1013.30,398.09) rotate(-90)" x="0" y="0" textLength="31.91" lengthAdjust="spacingAndGlyphs" fill="#0a0a0a" style="font-family:'Liberation Sans',sans-serif;font-size:26.70px;font-weight:normal;font-kerning:none" stroke="#000" stroke-width="0.8">30</text><text transform="translate(1013.30,336.04) rotate(-90)" x="0" y="0" textLength="30.50" lengthAdjust="spacingAndGlyphs" fill="#0a0a0a" style="font-family:'Liberation Sans',sans-serif;font-size:26.70px;font-weight:normal;font-kerning:none" stroke="#000" stroke-width="0.8">35</text><text x="938.62" y="335.60" textLength="33.03" lengthAdjust="spacingAndGlyphs" fill="#000" style="font-family:'Liberation Sans',sans-serif;font-size:50.30px;font-weight:bold;font-kerning:none">C</text><text x="1078.06" y="838.00" textLength="416.96" lengthAdjust="spacingAndGlyphs" fill="#000" style="font-family:'Liberation Sans',sans-serif;font-size:31.00px;font-weight:bold;font-kerning:none" stroke="#000" stroke-width="0.5">Sample sequence of vowel</text>
<defs><clipPath id="rd0"><path d="M0 725.78H2500.00V730.77H0ZM0 712.96H2500.00V718.38H0ZM0 650.11H2500.00V655.53H0ZM0 627.46H2500.00V631.59H0ZM0 575.30H2500.00V579.87H0ZM0 560.34H2500.00V564.90H0ZM0 524.43H2500.00V529.42H0ZM0 503.05H2500.00V507.62H0ZM0 479.54H2500.00V484.11H0ZM0 454.32H2500.00V458.88H0ZM0 411.14H2500.00V429.81H0ZM0 397.46H2500.00V402.45H0ZM0 369.67H2500.00V374.24H0ZM0 322.22H2500.00V326.79H0ZM0 314.95H2500.00V319.52H0ZM0 299.14H2500.00V303.27H0ZM0 282.04H2500.00V291.73H0ZM0 268.36H2500.00V272.49H0ZM0 233.73H2500.00V246.84H0ZM0 217.48H2500.00V222.05H0ZM0 194.40H2500.00V199.39H0ZM0 169.18H2500.00V173.74H0ZM0 133.27H2500.00V147.24H0ZM0 117.02H2500.00V121.59H0ZM0 77.26H2500.00V94.23H0Z"/></clipPath><clipPath id="rd1"><path d="M0 724.07H2500.00V727.35H0ZM0 716.80H2500.00V720.51H0ZM0 709.11H2500.00V714.53H0ZM0 703.55H2500.00V706.83H0ZM0 697.99H2500.00V700.42H0ZM0 676.62H2500.00V682.04H0ZM0 667.21H2500.00V672.21H0ZM0 648.83H2500.00V651.69H0ZM0 643.70H2500.00V646.56H0ZM0 641.56H2500.00V643.99H0ZM0 635.15H2500.00V638.01H0ZM0 630.02H2500.00V632.45H0ZM0 626.60H2500.00V629.03H0ZM0 621.90H2500.00V625.18H0ZM0 615.06H2500.00V620.05H0ZM0 609.07H2500.00V612.78H0ZM0 599.24H2500.00V604.23H0ZM0 594.54H2500.00V597.82H0ZM0 587.70H2500.00V592.26H0ZM0 584.28H2500.00V586.71H0ZM0 579.58H2500.00V585.00H0ZM0 572.31H2500.00V576.87H0ZM0 566.32H2500.00V571.32H0ZM0 563.33H2500.00V566.19H0ZM0 556.06H2500.00V559.35H0ZM0 551.79H2500.00V556.35H0ZM0 547.94H2500.00V551.22H0ZM0 540.67H2500.00V543.53H0ZM0 534.69H2500.00V537.54H0ZM0 527.85H2500.00V529.85H0ZM0 517.59H2500.00V522.58H0ZM0 508.18H2500.00V513.60H0ZM0 496.21H2500.00V499.92H0ZM0 490.66H2500.00V494.79H0ZM0 485.95H2500.00V490.09H0ZM0 476.55H2500.00V480.26H0ZM0 472.70H2500.00V476.84H0ZM0 464.15H2500.00V468.29H0ZM0 457.74H2500.00V462.30H0ZM0 451.75H2500.00V454.18H0ZM0 443.63H2500.00V448.20H0ZM0 439.36H2500.00V441.78H0ZM0 430.38H2500.00V435.80H0ZM0 407.29H2500.00V411.86H0ZM0 400.88H2500.00V405.87H0ZM0 392.76H2500.00V396.90H0ZM0 388.48H2500.00V390.91H0ZM0 381.64H2500.00V384.50H0ZM0 374.38H2500.00V376.80H0ZM0 366.68H2500.00V369.11H0ZM0 359.84H2500.00V364.41H0ZM0 356.42H2500.00V358.85H0ZM0 352.57H2500.00V355.43H0ZM0 348.30H2500.00V351.58H0ZM0 340.18H2500.00V344.31H0ZM0 335.47H2500.00V339.61H0ZM0 329.49H2500.00V333.63H0ZM0 311.11H2500.00V316.53H0ZM0 303.41H2500.00V307.12H0ZM0 279.04H2500.00V283.61H0ZM0 271.78H2500.00V276.77H0ZM0 255.10H2500.00V258.39H0ZM0 229.45H2500.00V232.31H0ZM0 225.18H2500.00V228.03H0ZM0 220.48H2500.00V225.04H0ZM0 210.22H2500.00V216.06H0ZM0 203.38H2500.00V208.37H0ZM0 197.82H2500.00V200.67H0ZM0 190.55H2500.00V195.97H0ZM0 184.14H2500.00V189.13H0ZM0 172.17H2500.00V176.31H0ZM0 161.48H2500.00V166.05H0ZM0 152.93H2500.00V158.78H0ZM0 145.66H2500.00V148.52H0ZM0 124.72H2500.00V129.28H0ZM0 120.01H2500.00V123.30H0ZM0 113.60H2500.00V118.59H0ZM0 105.91H2500.00V109.19H0ZM0 99.92H2500.00V104.06H0Z"/></clipPath><clipPath id="rd2"><path d="M0 722.79H2500.00V725.64H0ZM0 705.26H2500.00V710.68H0ZM0 698.85H2500.00V701.70H0ZM0 690.73H2500.00V695.72H0ZM0 683.46H2500.00V688.88H0ZM0 670.63H2500.00V674.77H0ZM0 663.79H2500.00V668.79H0ZM0 658.24H2500.00V662.80H0ZM0 654.82H2500.00V658.53H0ZM0 644.98H2500.00V650.40H0ZM0 642.42H2500.00V645.27H0ZM0 639.00H2500.00V643.13H0ZM0 634.30H2500.00V636.72H0ZM0 613.78H2500.00V616.63H0ZM0 602.66H2500.00V607.23H0ZM0 590.69H2500.00V596.11H0ZM0 585.13H2500.00V589.27H0ZM0 578.29H2500.00V581.15H0ZM0 569.74H2500.00V573.88H0ZM0 557.77H2500.00V561.91H0ZM0 554.78H2500.00V557.63H0ZM0 545.80H2500.00V549.51H0ZM0 528.28H2500.00V533.27H0ZM0 521.01H2500.00V526.00H0ZM0 514.17H2500.00V519.16H0ZM0 500.92H2500.00V504.63H0ZM0 493.22H2500.00V495.65H0ZM0 489.80H2500.00V492.23H0ZM0 466.72H2500.00V471.71H0ZM0 460.73H2500.00V465.72H0ZM0 446.62H2500.00V452.04H0ZM0 435.94H2500.00V440.93H0ZM0 428.24H2500.00V431.95H0ZM0 410.29H2500.00V412.71H0ZM0 404.30H2500.00V408.87H0ZM0 395.32H2500.00V399.03H0ZM0 391.48H2500.00V394.33H0ZM0 382.93H2500.00V387.06H0ZM0 375.23H2500.00V379.80H0ZM0 372.67H2500.00V375.95H0ZM0 367.54H2500.00V370.39H0ZM0 362.83H2500.00V367.40H0ZM0 353.86H2500.00V357.99H0ZM0 350.01H2500.00V354.15H0ZM0 345.73H2500.00V348.59H0ZM0 338.04H2500.00V341.75H0ZM0 332.05H2500.00V334.91H0ZM0 326.50H2500.00V331.06H0ZM0 318.80H2500.00V323.79H0ZM0 307.26H2500.00V312.68H0ZM0 301.70H2500.00V304.98H0ZM0 292.72H2500.00V298.14H0ZM0 275.20H2500.00V280.62H0ZM0 270.92H2500.00V273.35H0ZM0 264.08H2500.00V269.93H0ZM0 256.81H2500.00V263.09H0ZM0 247.41H2500.00V251.55H0ZM0 223.47H2500.00V226.75H0ZM0 206.80H2500.00V211.79H0ZM0 199.10H2500.00V204.95H0ZM0 180.72H2500.00V185.71H0ZM0 174.73H2500.00V179.30H0ZM0 164.47H2500.00V170.75H0ZM0 159.34H2500.00V163.05H0ZM0 146.95H2500.00V152.37H0ZM0 127.71H2500.00V133.13H0ZM0 121.72H2500.00V126.29H0ZM0 107.62H2500.00V110.90H0ZM0 104.20H2500.00V107.48H0ZM0 96.07H2500.00V101.49H0ZM0 92.65H2500.00V95.51H0Z"/></clipPath><clipPath id="rd3"><path d="M0 718.94H2500.00V724.36H0ZM0 694.15H2500.00V699.57H0ZM0 680.47H2500.00V683.32H0ZM0 662.94H2500.00V665.37H0ZM0 618.48H2500.00V623.47H0ZM0 564.61H2500.00V567.89H0ZM0 541.96H2500.00V547.38H0ZM0 535.97H2500.00V539.25H0ZM0 531.70H2500.00V536.26H0ZM0 506.05H2500.00V509.76H0ZM0 498.35H2500.00V502.49H0ZM0 494.08H2500.00V497.79H0ZM0 478.69H2500.00V481.11H0ZM0 475.27H2500.00V478.12H0ZM0 470.14H2500.00V472.56H0ZM0 457.31H2500.00V459.31H0ZM0 452.61H2500.00V455.89H0ZM0 434.23H2500.00V437.51H0ZM0 389.34H2500.00V393.05H0ZM0 368.82H2500.00V371.25H0ZM0 365.83H2500.00V368.25H0ZM0 347.02H2500.00V349.87H0ZM0 325.21H2500.00V328.07H0ZM0 317.95H2500.00V320.37H0ZM0 305.55H2500.00V308.83H0ZM0 296.57H2500.00V300.71H0ZM0 261.52H2500.00V265.65H0ZM0 251.26H2500.00V256.68H0ZM0 245.27H2500.00V247.27H0ZM0 214.49H2500.00V219.06H0ZM0 177.73H2500.00V182.29H0ZM0 157.21H2500.00V160.92H0ZM0 131.56H2500.00V134.84H0ZM0 93.94H2500.00V97.65H0Z"/></clipPath><clipPath id="rd4"><path d="M0 700.13H2500.00V705.12H0ZM0 687.31H2500.00V692.30H0ZM0 681.75H2500.00V685.03H0ZM0 673.20H2500.00V678.19H0ZM0 661.23H2500.00V664.51H0ZM0 656.95H2500.00V659.81H0ZM0 653.96H2500.00V656.39H0ZM0 636.43H2500.00V640.57H0ZM0 630.88H2500.00V635.87H0ZM0 623.61H2500.00V628.17H0ZM0 611.21H2500.00V615.35H0ZM0 605.65H2500.00V610.65H0ZM0 596.25H2500.00V600.81H0ZM0 583.42H2500.00V585.85H0ZM0 549.65H2500.00V553.36H0ZM0 537.68H2500.00V542.25H0ZM0 512.03H2500.00V515.74H0ZM0 488.52H2500.00V491.37H0ZM0 482.53H2500.00V487.53H0ZM0 470.99H2500.00V474.27H0ZM0 450.47H2500.00V453.33H0ZM0 440.21H2500.00V445.20H0ZM0 385.49H2500.00V390.06H0ZM0 378.22H2500.00V383.22H0ZM0 357.28H2500.00V361.41H0ZM0 342.74H2500.00V347.31H0ZM0 333.34H2500.00V337.05H0ZM0 290.16H2500.00V294.30H0ZM0 249.97H2500.00V252.83H0ZM0 245.70H2500.00V248.98H0ZM0 230.74H2500.00V235.30H0ZM0 226.46H2500.00V231.03H0ZM0 187.56H2500.00V192.12H0ZM0 150.79H2500.00V154.50H0ZM0 109.33H2500.00V115.17H0ZM0 102.49H2500.00V105.77H0Z"/></clipPath></defs><g fill="#000" filter="url(#gooD)"><path clip-path="url(#rd0)" d="M1733.88 0.00H1739.21V854.00H1733.88ZM1747.67 0.00H1753.48V854.00H1747.67ZM1817.60 0.00H1823.40V854.00H1817.60ZM1844.24 0.00H1848.62V854.00H1844.24ZM1901.80 0.00H1906.65V854.00H1901.80ZM1918.45 0.00H1923.30V854.00H1918.45ZM1957.93 0.00H1963.26V854.00H1957.93ZM1982.19 0.00H1987.05V854.00H1982.19ZM2008.35 0.00H2013.21V854.00H2008.35ZM2036.42 0.00H2041.28V854.00H2036.42ZM2068.77 0.00H2089.32V854.00H2068.77ZM2099.21 0.00H2104.54V854.00H2099.21ZM2130.61 0.00H2135.46V854.00H2130.61ZM2183.41 0.00H2188.27V854.00H2183.41ZM2191.50 0.00H2196.35V854.00H2191.50ZM2209.58 0.00H2213.95V854.00H2209.58ZM2222.42 0.00H2232.98V854.00H2222.42ZM2243.83 0.00H2248.20V854.00H2243.83ZM2272.37 0.00H2286.74V854.00H2272.37ZM2299.96 0.00H2304.81V854.00H2299.96ZM2325.17 0.00H2330.50V854.00H2325.17ZM2353.71 0.00H2358.57V854.00H2353.71ZM2383.21 0.00H2398.53V854.00H2383.21ZM2411.75 0.00H2416.60V854.00H2411.75ZM2442.19 0.00H2460.84V854.00H2442.19Z"/><path clip-path="url(#rd1)" d="M1737.68 0.00H1741.11V854.00H1737.68ZM1745.29 0.00H1749.20V854.00H1745.29ZM1751.95 0.00H1757.76V854.00H1751.95ZM1760.51 0.00H1763.94V854.00H1760.51ZM1767.65 0.00H1770.13V854.00H1767.65ZM1788.11 0.00H1793.91V854.00H1788.11ZM1799.05 0.00H1804.38V854.00H1799.05ZM1821.88 0.00H1824.83V854.00H1821.88ZM1827.59 0.00H1830.54V854.00H1827.59ZM1830.44 0.00H1832.92V854.00H1830.44ZM1837.10 0.00H1840.05V854.00H1837.10ZM1843.29 0.00H1845.76V854.00H1843.29ZM1847.09 0.00H1849.57V854.00H1847.09ZM1851.37 0.00H1854.80V854.00H1851.37ZM1857.08 0.00H1862.41V854.00H1857.08ZM1865.17 0.00H1869.07V854.00H1865.17ZM1874.68 0.00H1880.01V854.00H1874.68ZM1881.82 0.00H1885.25V854.00H1881.82ZM1888.00 0.00H1892.86V854.00H1888.00ZM1894.19 0.00H1896.66V854.00H1894.19ZM1896.09 0.00H1901.89V854.00H1896.09ZM1905.13 0.00H1909.98V854.00H1905.13ZM1911.31 0.00H1916.64V854.00H1911.31ZM1917.02 0.00H1919.97V854.00H1917.02ZM1924.63 0.00H1928.06V854.00H1924.63ZM1927.96 0.00H1932.82V854.00H1927.96ZM1933.67 0.00H1937.10V854.00H1933.67ZM1942.23 0.00H1945.18V854.00H1942.23ZM1948.89 0.00H1951.84V854.00H1948.89ZM1957.45 0.00H1959.45V854.00H1957.45ZM1965.54 0.00H1970.87V854.00H1965.54ZM1975.53 0.00H1981.34V854.00H1975.53ZM1990.75 0.00H1994.66V854.00H1990.75ZM1996.46 0.00H2000.84V854.00H1996.46ZM2001.69 0.00H2006.07V854.00H2001.69ZM2012.64 0.00H2016.54V854.00H2012.64ZM2016.44 0.00H2020.82V854.00H2016.44ZM2025.96 0.00H2030.33V854.00H2025.96ZM2032.62 0.00H2037.47V854.00H2032.62ZM2041.65 0.00H2044.13V854.00H2041.65ZM2048.31 0.00H2053.17V854.00H2048.31ZM2055.45 0.00H2057.92V854.00H2055.45ZM2062.11 0.00H2067.91V854.00H2062.11ZM2088.75 0.00H2093.60V854.00H2088.75ZM2095.41 0.00H2100.74V854.00H2095.41ZM2105.40 0.00H2109.78V854.00H2105.40ZM2112.06 0.00H2114.53V854.00H2112.06ZM2119.19 0.00H2122.14V854.00H2119.19ZM2127.76 0.00H2130.23V854.00H2127.76ZM2136.32 0.00H2138.79V854.00H2136.32ZM2141.55 0.00H2146.40V854.00H2141.55ZM2147.73 0.00H2150.21V854.00H2147.73ZM2151.54 0.00H2154.49V854.00H2151.54ZM2155.82 0.00H2159.25V854.00H2155.82ZM2163.91 0.00H2168.29V854.00H2163.91ZM2169.14 0.00H2173.52V854.00H2169.14ZM2175.80 0.00H2180.18V854.00H2175.80ZM2194.83 0.00H2200.63V854.00H2194.83ZM2205.29 0.00H2209.20V854.00H2205.29ZM2231.46 0.00H2236.31V854.00H2231.46ZM2239.07 0.00H2244.40V854.00H2239.07ZM2259.52 0.00H2262.95V854.00H2259.52ZM2288.54 0.00H2291.49V854.00H2288.54ZM2293.30 0.00H2296.25V854.00H2293.30ZM2296.63 0.00H2301.48V854.00H2296.63ZM2306.62 0.00H2312.90V854.00H2306.62ZM2315.18 0.00H2320.51V854.00H2315.18ZM2323.74 0.00H2326.70V854.00H2323.74ZM2328.98 0.00H2334.78V854.00H2328.98ZM2336.59 0.00H2341.92V854.00H2336.59ZM2350.86 0.00H2355.24V854.00H2350.86ZM2362.28 0.00H2367.13V854.00H2362.28ZM2370.36 0.00H2376.64V854.00H2370.36ZM2381.78 0.00H2384.73V854.00H2381.78ZM2403.19 0.00H2408.04V854.00H2403.19ZM2409.85 0.00H2413.27V854.00H2409.85ZM2415.08 0.00H2420.41V854.00H2415.08ZM2425.54 0.00H2428.97V854.00H2425.54ZM2431.25 0.00H2435.63V854.00H2431.25Z"/><path clip-path="url(#rd2)" d="M1739.58 0.00H1742.54V854.00H1739.58ZM1756.23 0.00H1762.04V854.00H1756.23ZM1766.22 0.00H1769.17V854.00H1766.22ZM1772.88 0.00H1778.21V854.00H1772.88ZM1780.49 0.00H1786.30V854.00H1780.49ZM1796.19 0.00H1800.57V854.00H1796.19ZM1802.85 0.00H1808.18V854.00H1802.85ZM1809.51 0.00H1814.37V854.00H1809.51ZM1814.27 0.00H1818.17V854.00H1814.27ZM1823.31 0.00H1829.11V854.00H1823.31ZM1829.02 0.00H1831.97V854.00H1829.02ZM1831.39 0.00H1835.77V854.00H1831.39ZM1838.53 0.00H1841.01V854.00H1838.53ZM1860.89 0.00H1863.84V854.00H1860.89ZM1871.35 0.00H1876.21V854.00H1871.35ZM1883.72 0.00H1889.53V854.00H1883.72ZM1891.33 0.00H1895.71V854.00H1891.33ZM1900.37 0.00H1903.32V854.00H1900.37ZM1908.46 0.00H1912.84V854.00H1908.46ZM1921.78 0.00H1926.16V854.00H1921.78ZM1926.53 0.00H1929.49V854.00H1926.53ZM1935.57 0.00H1939.48V854.00H1935.57ZM1953.65 0.00H1958.98V854.00H1953.65ZM1961.74 0.00H1967.07V854.00H1961.74ZM1969.35 0.00H1974.68V854.00H1969.35ZM1985.52 0.00H1989.42V854.00H1985.52ZM1995.51 0.00H1997.99V854.00H1995.51ZM1999.32 0.00H2001.79V854.00H1999.32ZM2022.15 0.00H2027.48V854.00H2022.15ZM2028.81 0.00H2034.14V854.00H2028.81ZM2044.03 0.00H2049.84V854.00H2044.03ZM2056.40 0.00H2061.73V854.00H2056.40ZM2066.39 0.00H2070.29V854.00H2066.39ZM2087.80 0.00H2090.27V854.00H2087.80ZM2092.08 0.00H2096.93V854.00H2092.08ZM2103.02 0.00H2106.92V854.00H2103.02ZM2108.25 0.00H2111.20V854.00H2108.25ZM2116.34 0.00H2120.72V854.00H2116.34ZM2124.43 0.00H2129.28V854.00H2124.43ZM2128.71 0.00H2132.13V854.00H2128.71ZM2134.89 0.00H2137.84V854.00H2134.89ZM2138.22 0.00H2143.07V854.00H2138.22ZM2148.69 0.00H2153.06V854.00H2148.69ZM2152.97 0.00H2157.35V854.00H2152.97ZM2159.15 0.00H2162.10V854.00H2159.15ZM2166.76 0.00H2170.67V854.00H2166.76ZM2174.37 0.00H2177.33V854.00H2174.37ZM2178.66 0.00H2183.51V854.00H2178.66ZM2186.74 0.00H2192.07V854.00H2186.74ZM2199.11 0.00H2204.92V854.00H2199.11ZM2207.67 0.00H2211.10V854.00H2207.67ZM2215.28 0.00H2221.09V854.00H2215.28ZM2234.79 0.00H2240.59V854.00H2234.79ZM2242.87 0.00H2245.35V854.00H2242.87ZM2246.68 0.00H2252.96V854.00H2246.68ZM2254.29 0.00H2261.05V854.00H2254.29ZM2267.14 0.00H2271.51V854.00H2267.14ZM2294.73 0.00H2298.15V854.00H2294.73ZM2311.38 0.00H2316.71V854.00H2311.38ZM2318.99 0.00H2325.27V854.00H2318.99ZM2340.39 0.00H2345.72V854.00H2340.39ZM2347.53 0.00H2352.38V854.00H2347.53ZM2357.04 0.00H2363.80V854.00H2357.04ZM2365.61 0.00H2369.51V854.00H2365.61ZM2377.50 0.00H2383.30V854.00H2377.50ZM2398.90 0.00H2404.71V854.00H2398.90ZM2406.52 0.00H2411.37V854.00H2406.52ZM2423.64 0.00H2427.07V854.00H2423.64ZM2427.45 0.00H2430.87V854.00H2427.45ZM2434.11 0.00H2439.91V854.00H2434.11ZM2440.77 0.00H2443.72V854.00H2440.77Z"/><path clip-path="url(#rd3)" d="M1741.01 0.00H1746.82V854.00H1741.01ZM1768.60 0.00H1774.41V854.00H1768.60ZM1786.68 0.00H1789.63V854.00H1786.68ZM1806.66 0.00H1809.13V854.00H1806.66ZM1853.28 0.00H1858.61V854.00H1853.28ZM1915.12 0.00H1918.54V854.00H1915.12ZM1937.95 0.00H1943.76V854.00H1937.95ZM1946.99 0.00H1950.42V854.00H1946.99ZM1950.32 0.00H1955.17V854.00H1950.32ZM1979.81 0.00H1983.72V854.00H1979.81ZM1987.90 0.00H1992.28V854.00H1987.90ZM1993.13 0.00H1997.04V854.00H1993.13ZM2011.68 0.00H2014.16V854.00H2011.68ZM2015.01 0.00H2017.97V854.00H2015.01ZM2021.20 0.00H2023.67V854.00H2021.20ZM2035.95 0.00H2037.95V854.00H2035.95ZM2039.75 0.00H2043.18V854.00H2039.75ZM2060.21 0.00H2063.63V854.00H2060.21ZM2109.68 0.00H2113.58V854.00H2109.68ZM2133.94 0.00H2136.42V854.00H2133.94ZM2137.27 0.00H2139.74V854.00H2137.27ZM2157.72 0.00H2160.68V854.00H2157.72ZM2181.99 0.00H2184.94V854.00H2181.99ZM2190.55 0.00H2193.02V854.00H2190.55ZM2203.39 0.00H2206.82V854.00H2203.39ZM2212.43 0.00H2216.81V854.00H2212.43ZM2251.44 0.00H2255.82V854.00H2251.44ZM2261.43 0.00H2267.23V854.00H2261.43ZM2271.89 0.00H2273.89V854.00H2271.89ZM2303.29 0.00H2308.14V854.00H2303.29ZM2344.20 0.00H2349.05V854.00H2344.20ZM2367.98 0.00H2371.89V854.00H2367.98ZM2397.00 0.00H2400.43V854.00H2397.00ZM2438.39 0.00H2442.29V854.00H2438.39Z"/><path clip-path="url(#rd4)" d="M1762.42 0.00H1767.75V854.00H1762.42ZM1776.69 0.00H1782.02V854.00H1776.69ZM1784.78 0.00H1788.20V854.00H1784.78ZM1792.39 0.00H1797.72V854.00H1792.39ZM1807.61 0.00H1811.04V854.00H1807.61ZM1812.84 0.00H1815.79V854.00H1812.84ZM1816.65 0.00H1819.12V854.00H1816.65ZM1834.25 0.00H1838.63V854.00H1834.25ZM1839.48 0.00H1844.81V854.00H1839.48ZM1848.04 0.00H1852.90V854.00H1848.04ZM1862.31 0.00H1866.69V854.00H1862.31ZM1867.55 0.00H1872.88V854.00H1867.55ZM1878.49 0.00H1883.34V854.00H1878.49ZM1895.14 0.00H1897.61V854.00H1895.14ZM1931.29 0.00H1935.19V854.00H1931.29ZM1943.66 0.00H1948.51V854.00H1943.66ZM1973.15 0.00H1977.06V854.00H1973.15ZM2000.27 0.00H2003.22V854.00H2000.27ZM2004.55 0.00H2009.88V854.00H2004.55ZM2019.30 0.00H2022.72V854.00H2019.30ZM2042.61 0.00H2045.56V854.00H2042.61ZM2051.64 0.00H2056.97V854.00H2051.64ZM2113.01 0.00H2117.86V854.00H2113.01ZM2120.62 0.00H2125.95V854.00H2120.62ZM2144.88 0.00H2149.26V854.00H2144.88ZM2160.58 0.00H2165.43V854.00H2160.58ZM2172.00 0.00H2175.90V854.00H2172.00ZM2219.57 0.00H2223.94V854.00H2219.57ZM2265.71 0.00H2268.66V854.00H2265.71ZM2269.99 0.00H2273.42V854.00H2269.99ZM2285.21 0.00H2290.07V854.00H2285.21ZM2289.97 0.00H2294.82V854.00H2289.97ZM2333.26 0.00H2338.11V854.00H2333.26ZM2375.12 0.00H2379.02V854.00H2375.12ZM2418.88 0.00H2425.16V854.00H2418.88ZM2429.35 0.00H2432.78V854.00H2429.35Z"/></g><g fill="none" stroke-width="2.6"><path d="M1706.5 52.5H2490.8" stroke="#9a9a9a"/><path d="M1706.6 52.5V755.6" stroke="#767676" stroke-width="3"/><path d="M2490.8 52.5V755.6" stroke="#9a9a9a"/><path d="M1706.5 755.6H2490.8" stroke="#555"/></g><path d="M1734.40 755.6V764.5M1691.7 730.20H1706.5M1972.25 755.6V764.5M1691.7 516.45H1706.5M2210.10 755.6V764.5M1691.7 302.70H1706.5M2447.95 755.6V764.5M1691.7 88.95H1706.5" stroke="#666" stroke-width="2.2" fill="none"/><text x="1720.96" y="791.00" textLength="19.08" lengthAdjust="spacingAndGlyphs" fill="#0a0a0a" style="font-family:'Liberation Sans',sans-serif;font-size:27.00px;font-weight:normal;font-kerning:none" stroke="#000" stroke-width="0.8">0</text><text x="1949.54" y="791.00" textLength="48.39" lengthAdjust="spacingAndGlyphs" fill="#0a0a0a" style="font-family:'Liberation Sans',sans-serif;font-size:27.00px;font-weight:normal;font-kerning:none" stroke="#000" stroke-width="0.8">500</text><text x="2184.24" y="791.00" textLength="66.13" lengthAdjust="spacingAndGlyphs" fill="#0a0a0a" style="font-family:'Liberation Sans',sans-serif;font-size:27.00px;font-weight:normal;font-kerning:none" stroke="#000" stroke-width="0.8">1000</text><text x="2424.41" y="791.00" textLength="66.86" lengthAdjust="spacingAndGlyphs" fill="#0a0a0a" style="font-family:'Liberation Sans',sans-serif;font-size:27.00px;font-weight:normal;font-kerning:none" stroke="#000" stroke-width="0.8">1500</text><text transform="translate(1683.10,739.44) rotate(-90)" x="0" y="0" textLength="17.68" lengthAdjust="spacingAndGlyphs" fill="#0a0a0a" style="font-family:'Liberation Sans',sans-serif;font-size:25.50px;font-weight:normal;font-kerning:none" stroke="#000" stroke-width="0.8">0</text><text transform="translate(1683.10,537.35) rotate(-90)" x="0" y="0" textLength="48.08" lengthAdjust="spacingAndGlyphs" fill="#0a0a0a" style="font-family:'Liberation Sans',sans-serif;font-size:25.50px;font-weight:normal;font-kerning:none" stroke="#000" stroke-width="0.8">500</text><text transform="translate(1683.10,330.22) rotate(-90)" x="0" y="0" textLength="64.75" lengthAdjust="spacingAndGlyphs" fill="#0a0a0a" style="font-family:'Liberation Sans',sans-serif;font-size:25.50px;font-weight:normal;font-kerning:none" stroke="#000" stroke-width="0.8">1000</text><text transform="translate(1683.10,110.66) rotate(-90)" x="0" y="0" textLength="62.96" lengthAdjust="spacingAndGlyphs" fill="#0a0a0a" style="font-family:'Liberation Sans',sans-serif;font-size:25.50px;font-weight:normal;font-kerning:none" stroke="#000" stroke-width="0.8">1500</text><path d="M1960.3 52.5V755.6M2215.4 52.5V755.6" stroke="#0818e6" stroke-width="6"/><text x="1775.58" y="32.90" textLength="108.47" lengthAdjust="spacingAndGlyphs" fill="#1010b4" style="font-family:'Liberation Sans',sans-serif;font-size:30.50px;font-weight:normal;font-kerning:none" stroke="#1010b4" stroke-width="0.8">Phase 1</text><text x="2033.18" y="32.90" textLength="108.31" lengthAdjust="spacingAndGlyphs" fill="#1010b4" style="font-family:'Liberation Sans',sans-serif;font-size:30.50px;font-weight:normal;font-kerning:none" stroke="#1010b4" stroke-width="0.8">Phase 2</text><text x="2315.31" y="32.90" textLength="76.65" lengthAdjust="spacingAndGlyphs" fill="#1010b4" style="font-family:'Liberation Sans',sans-serif;font-size:30.50px;font-weight:normal;font-kerning:none" stroke="#1010b4" stroke-width="0.8">Hook</text><text x="1617.00" y="36.60" textLength="34.50" lengthAdjust="spacingAndGlyphs" fill="#000" style="font-family:'Liberation Sans',sans-serif;font-size:50.30px;font-weight:bold;font-kerning:none">D</text><text x="1791.22" y="839.40" textLength="620.44" lengthAdjust="spacingAndGlyphs" fill="#000" style="font-family:'Liberation Sans',sans-serif;font-size:31.00px;font-weight:bold;font-kerning:none" stroke="#000" stroke-width="0.5">Time (vowel extracted from audio data)</text>
</g>
</svg>
</body></html>
